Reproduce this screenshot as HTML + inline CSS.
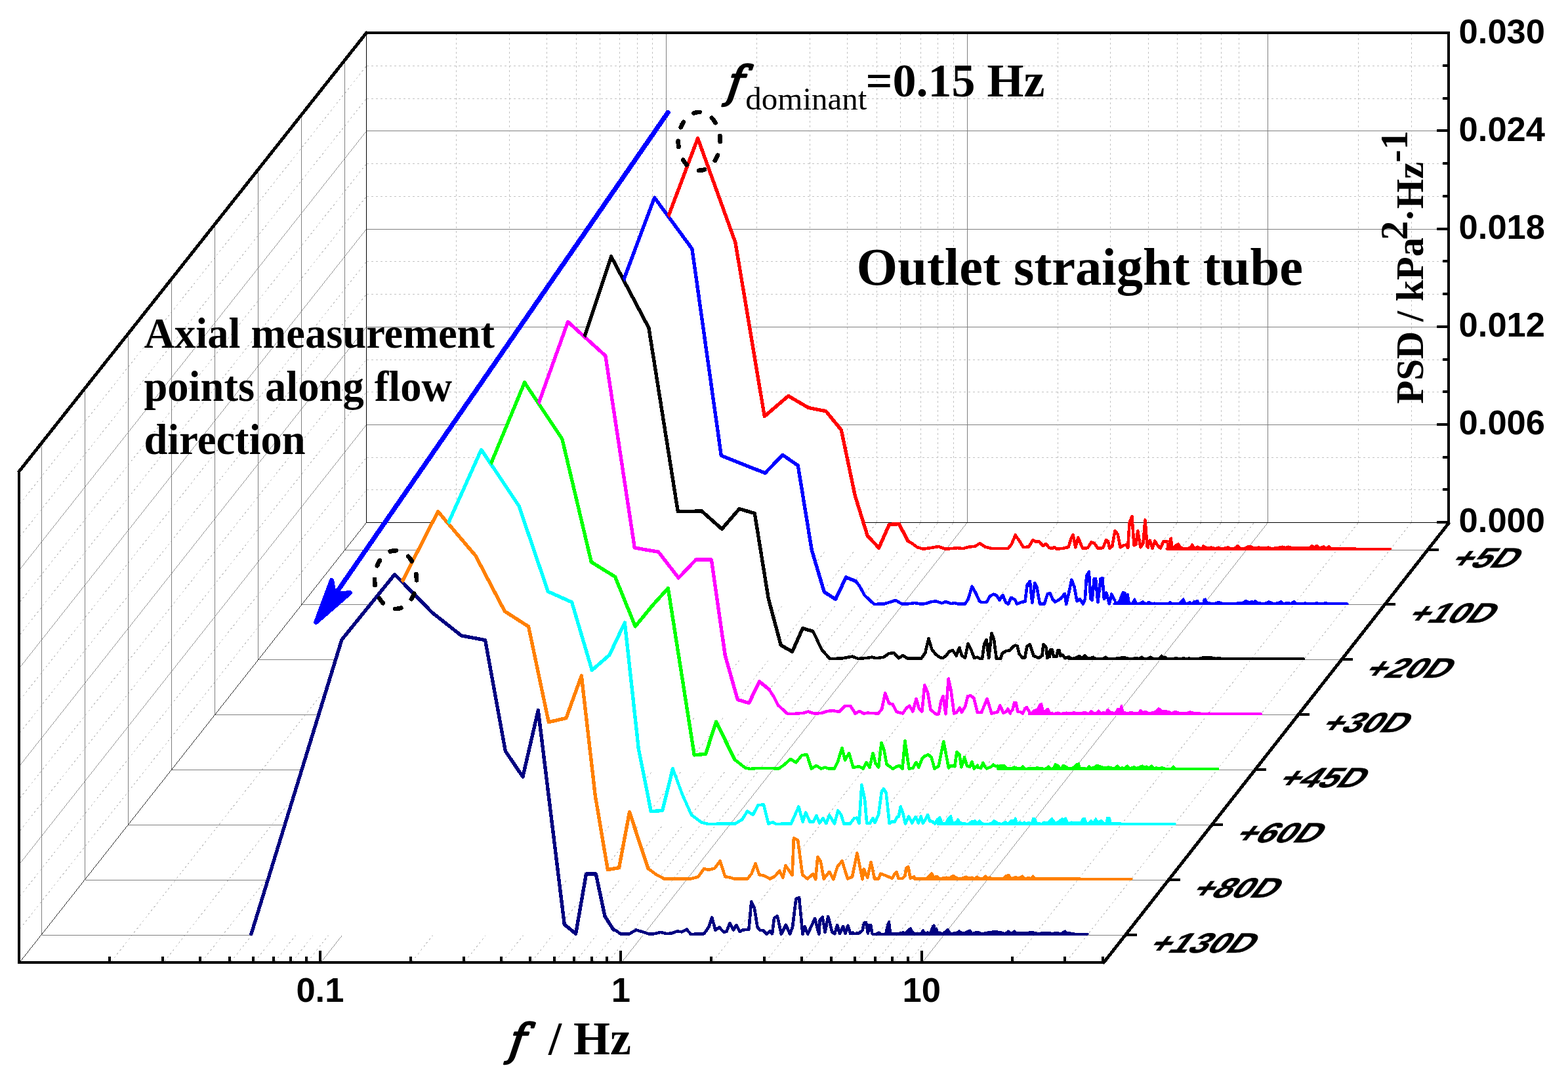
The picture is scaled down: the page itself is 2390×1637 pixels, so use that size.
<!DOCTYPE html>
<html><head><meta charset="utf-8"><title>PSD waterfall</title>
<style>html,body{margin:0;padding:0;background:#fff}svg{display:block}</style></head>
<body>
<svg width="2390" height="1637" viewBox="0 0 2390 1637">
<rect width="2390" height="1637" fill="#fff"/>
<g id="backwall" shape-rendering="crispEdges">
<line x1="558.50" y1="746.50" x2="2208.00" y2="746.50" stroke="#c2c2c2" stroke-width="1" stroke-dasharray="3.2 3.8"/>
<line x1="558.50" y1="697.50" x2="2208.00" y2="697.50" stroke="#c2c2c2" stroke-width="1" stroke-dasharray="3.2 3.8"/>
<line x1="558.50" y1="647.50" x2="2208.00" y2="647.50" stroke="#7f7f7f" stroke-width="1"/>
<line x1="558.50" y1="597.50" x2="2208.00" y2="597.50" stroke="#c2c2c2" stroke-width="1" stroke-dasharray="3.2 3.8"/>
<line x1="558.50" y1="548.50" x2="2208.00" y2="548.50" stroke="#c2c2c2" stroke-width="1" stroke-dasharray="3.2 3.8"/>
<line x1="558.50" y1="498.50" x2="2208.00" y2="498.50" stroke="#7f7f7f" stroke-width="1"/>
<line x1="558.50" y1="448.50" x2="2208.00" y2="448.50" stroke="#c2c2c2" stroke-width="1" stroke-dasharray="3.2 3.8"/>
<line x1="558.50" y1="398.50" x2="2208.00" y2="398.50" stroke="#c2c2c2" stroke-width="1" stroke-dasharray="3.2 3.8"/>
<line x1="558.50" y1="349.50" x2="2208.00" y2="349.50" stroke="#7f7f7f" stroke-width="1"/>
<line x1="558.50" y1="299.50" x2="2208.00" y2="299.50" stroke="#c2c2c2" stroke-width="1" stroke-dasharray="3.2 3.8"/>
<line x1="558.50" y1="249.50" x2="2208.00" y2="249.50" stroke="#c2c2c2" stroke-width="1" stroke-dasharray="3.2 3.8"/>
<line x1="558.50" y1="199.50" x2="2208.00" y2="199.50" stroke="#7f7f7f" stroke-width="1"/>
<line x1="558.50" y1="150.50" x2="2208.00" y2="150.50" stroke="#c2c2c2" stroke-width="1" stroke-dasharray="3.2 3.8"/>
<line x1="558.50" y1="100.50" x2="2208.00" y2="100.50" stroke="#c2c2c2" stroke-width="1" stroke-dasharray="3.2 3.8"/>
<line x1="695.50" y1="50.80" x2="695.50" y2="796.60" stroke="#c2c2c2" stroke-width="1" stroke-dasharray="3.2 3.8"/>
<line x1="776.50" y1="50.80" x2="776.50" y2="796.60" stroke="#c2c2c2" stroke-width="1" stroke-dasharray="3.2 3.8"/>
<line x1="833.50" y1="50.80" x2="833.50" y2="796.60" stroke="#c2c2c2" stroke-width="1" stroke-dasharray="3.2 3.8"/>
<line x1="878.50" y1="50.80" x2="878.50" y2="796.60" stroke="#c2c2c2" stroke-width="1" stroke-dasharray="3.2 3.8"/>
<line x1="914.50" y1="50.80" x2="914.50" y2="796.60" stroke="#c2c2c2" stroke-width="1" stroke-dasharray="3.2 3.8"/>
<line x1="944.50" y1="50.80" x2="944.50" y2="796.60" stroke="#c2c2c2" stroke-width="1" stroke-dasharray="3.2 3.8"/>
<line x1="971.50" y1="50.80" x2="971.50" y2="796.60" stroke="#c2c2c2" stroke-width="1" stroke-dasharray="3.2 3.8"/>
<line x1="994.50" y1="50.80" x2="994.50" y2="796.60" stroke="#c2c2c2" stroke-width="1" stroke-dasharray="3.2 3.8"/>
<line x1="1153.50" y1="50.80" x2="1153.50" y2="796.60" stroke="#c2c2c2" stroke-width="1" stroke-dasharray="3.2 3.8"/>
<line x1="1234.50" y1="50.80" x2="1234.50" y2="796.60" stroke="#c2c2c2" stroke-width="1" stroke-dasharray="3.2 3.8"/>
<line x1="1291.50" y1="50.80" x2="1291.50" y2="796.60" stroke="#c2c2c2" stroke-width="1" stroke-dasharray="3.2 3.8"/>
<line x1="1336.50" y1="50.80" x2="1336.50" y2="796.60" stroke="#c2c2c2" stroke-width="1" stroke-dasharray="3.2 3.8"/>
<line x1="1372.50" y1="50.80" x2="1372.50" y2="796.60" stroke="#c2c2c2" stroke-width="1" stroke-dasharray="3.2 3.8"/>
<line x1="1403.50" y1="50.80" x2="1403.50" y2="796.60" stroke="#c2c2c2" stroke-width="1" stroke-dasharray="3.2 3.8"/>
<line x1="1429.50" y1="50.80" x2="1429.50" y2="796.60" stroke="#c2c2c2" stroke-width="1" stroke-dasharray="3.2 3.8"/>
<line x1="1453.50" y1="50.80" x2="1453.50" y2="796.60" stroke="#c2c2c2" stroke-width="1" stroke-dasharray="3.2 3.8"/>
<line x1="1612.50" y1="50.80" x2="1612.50" y2="796.60" stroke="#c2c2c2" stroke-width="1" stroke-dasharray="3.2 3.8"/>
<line x1="1692.50" y1="50.80" x2="1692.50" y2="796.60" stroke="#c2c2c2" stroke-width="1" stroke-dasharray="3.2 3.8"/>
<line x1="1750.50" y1="50.80" x2="1750.50" y2="796.60" stroke="#c2c2c2" stroke-width="1" stroke-dasharray="3.2 3.8"/>
<line x1="1794.50" y1="50.80" x2="1794.50" y2="796.60" stroke="#c2c2c2" stroke-width="1" stroke-dasharray="3.2 3.8"/>
<line x1="1830.50" y1="50.80" x2="1830.50" y2="796.60" stroke="#c2c2c2" stroke-width="1" stroke-dasharray="3.2 3.8"/>
<line x1="1861.50" y1="50.80" x2="1861.50" y2="796.60" stroke="#c2c2c2" stroke-width="1" stroke-dasharray="3.2 3.8"/>
<line x1="1888.50" y1="50.80" x2="1888.50" y2="796.60" stroke="#c2c2c2" stroke-width="1" stroke-dasharray="3.2 3.8"/>
<line x1="2070.50" y1="50.80" x2="2070.50" y2="796.60" stroke="#c2c2c2" stroke-width="1" stroke-dasharray="3.2 3.8"/>
<line x1="2151.50" y1="50.80" x2="2151.50" y2="796.60" stroke="#c2c2c2" stroke-width="1" stroke-dasharray="3.2 3.8"/>
<line x1="1015.50" y1="50.80" x2="1015.50" y2="796.60" stroke="#7f7f7f" stroke-width="1"/>
<line x1="1474.50" y1="50.80" x2="1474.50" y2="796.60" stroke="#7f7f7f" stroke-width="1"/>
<line x1="1932.50" y1="50.80" x2="1932.50" y2="796.60" stroke="#7f7f7f" stroke-width="1"/>
</g>
<g id="leftwall" shape-rendering="crispEdges">
<line x1="30.50" y1="1415.67" x2="558.50" y2="746.88" stroke="#c2c2c2" stroke-width="1.1" stroke-dasharray="2.8 4.2"/>
<line x1="30.50" y1="1365.83" x2="558.50" y2="697.16" stroke="#c2c2c2" stroke-width="1.1" stroke-dasharray="2.8 4.2"/>
<line x1="30.50" y1="1316.00" x2="558.50" y2="647.44" stroke="#7f7f7f" stroke-width="0.8"/>
<line x1="30.50" y1="1266.17" x2="558.50" y2="597.72" stroke="#c2c2c2" stroke-width="1.1" stroke-dasharray="2.8 4.2"/>
<line x1="30.50" y1="1216.33" x2="558.50" y2="548.00" stroke="#c2c2c2" stroke-width="1.1" stroke-dasharray="2.8 4.2"/>
<line x1="30.50" y1="1166.50" x2="558.50" y2="498.28" stroke="#7f7f7f" stroke-width="0.8"/>
<line x1="30.50" y1="1116.67" x2="558.50" y2="448.56" stroke="#c2c2c2" stroke-width="1.1" stroke-dasharray="2.8 4.2"/>
<line x1="30.50" y1="1066.83" x2="558.50" y2="398.84" stroke="#c2c2c2" stroke-width="1.1" stroke-dasharray="2.8 4.2"/>
<line x1="30.50" y1="1017.00" x2="558.50" y2="349.12" stroke="#7f7f7f" stroke-width="0.8"/>
<line x1="30.50" y1="967.17" x2="558.50" y2="299.40" stroke="#c2c2c2" stroke-width="1.1" stroke-dasharray="2.8 4.2"/>
<line x1="30.50" y1="917.33" x2="558.50" y2="249.68" stroke="#c2c2c2" stroke-width="1.1" stroke-dasharray="2.8 4.2"/>
<line x1="30.50" y1="867.50" x2="558.50" y2="199.96" stroke="#7f7f7f" stroke-width="0.8"/>
<line x1="30.50" y1="817.67" x2="558.50" y2="150.24" stroke="#c2c2c2" stroke-width="1.1" stroke-dasharray="2.8 4.2"/>
<line x1="30.50" y1="767.83" x2="558.50" y2="100.52" stroke="#c2c2c2" stroke-width="1.1" stroke-dasharray="2.8 4.2"/>
<line x1="63.50" y1="677.60" x2="63.50" y2="1425.00" stroke="#7f7f7f" stroke-width="1"/>
<line x1="129.50" y1="593.96" x2="129.50" y2="1341.14" stroke="#7f7f7f" stroke-width="1"/>
<line x1="195.50" y1="510.32" x2="195.50" y2="1257.29" stroke="#7f7f7f" stroke-width="1"/>
<line x1="261.50" y1="426.67" x2="261.50" y2="1173.43" stroke="#7f7f7f" stroke-width="1"/>
<line x1="327.50" y1="343.03" x2="327.50" y2="1089.57" stroke="#7f7f7f" stroke-width="1"/>
<line x1="393.50" y1="259.38" x2="393.50" y2="1005.72" stroke="#7f7f7f" stroke-width="1"/>
<line x1="459.50" y1="175.74" x2="459.50" y2="921.86" stroke="#7f7f7f" stroke-width="1"/>
<line x1="525.50" y1="92.10" x2="525.50" y2="838.00" stroke="#7f7f7f" stroke-width="1"/>
</g>
<g id="floor" shape-rendering="crispEdges">
<line x1="169.79" y1="1465.50" x2="695.65" y2="796.60" stroke="#c2c2c2" stroke-width="1.1" stroke-dasharray="2.8 4.2"/>
<line x1="250.51" y1="1465.50" x2="776.34" y2="796.60" stroke="#c2c2c2" stroke-width="1.1" stroke-dasharray="2.8 4.2"/>
<line x1="307.78" y1="1465.50" x2="833.59" y2="796.60" stroke="#c2c2c2" stroke-width="1.1" stroke-dasharray="2.8 4.2"/>
<line x1="352.21" y1="1465.50" x2="878.00" y2="796.60" stroke="#c2c2c2" stroke-width="1.1" stroke-dasharray="2.8 4.2"/>
<line x1="388.50" y1="1465.50" x2="914.29" y2="796.60" stroke="#c2c2c2" stroke-width="1.1" stroke-dasharray="2.8 4.2"/>
<line x1="419.19" y1="1465.50" x2="944.97" y2="796.60" stroke="#c2c2c2" stroke-width="1.1" stroke-dasharray="2.8 4.2"/>
<line x1="445.78" y1="1465.50" x2="971.54" y2="796.60" stroke="#c2c2c2" stroke-width="1.1" stroke-dasharray="2.8 4.2"/>
<line x1="469.22" y1="1465.50" x2="994.98" y2="796.60" stroke="#c2c2c2" stroke-width="1.1" stroke-dasharray="2.8 4.2"/>
<line x1="628.19" y1="1465.50" x2="1153.90" y2="796.60" stroke="#c2c2c2" stroke-width="1.1" stroke-dasharray="2.8 4.2"/>
<line x1="708.91" y1="1465.50" x2="1234.59" y2="796.60" stroke="#c2c2c2" stroke-width="1.1" stroke-dasharray="2.8 4.2"/>
<line x1="766.18" y1="1465.50" x2="1291.84" y2="796.60" stroke="#c2c2c2" stroke-width="1.1" stroke-dasharray="2.8 4.2"/>
<line x1="810.61" y1="1465.50" x2="1336.25" y2="796.60" stroke="#c2c2c2" stroke-width="1.1" stroke-dasharray="2.8 4.2"/>
<line x1="846.90" y1="1465.50" x2="1372.54" y2="796.60" stroke="#c2c2c2" stroke-width="1.1" stroke-dasharray="2.8 4.2"/>
<line x1="877.59" y1="1465.50" x2="1403.22" y2="796.60" stroke="#c2c2c2" stroke-width="1.1" stroke-dasharray="2.8 4.2"/>
<line x1="904.18" y1="1465.50" x2="1429.79" y2="796.60" stroke="#c2c2c2" stroke-width="1.1" stroke-dasharray="2.8 4.2"/>
<line x1="927.62" y1="1465.50" x2="1453.23" y2="796.60" stroke="#c2c2c2" stroke-width="1.1" stroke-dasharray="2.8 4.2"/>
<line x1="1086.59" y1="1465.50" x2="1612.15" y2="796.60" stroke="#c2c2c2" stroke-width="1.1" stroke-dasharray="2.8 4.2"/>
<line x1="1167.31" y1="1465.50" x2="1692.84" y2="796.60" stroke="#c2c2c2" stroke-width="1.1" stroke-dasharray="2.8 4.2"/>
<line x1="1224.58" y1="1465.50" x2="1750.09" y2="796.60" stroke="#c2c2c2" stroke-width="1.1" stroke-dasharray="2.8 4.2"/>
<line x1="1269.01" y1="1465.50" x2="1794.50" y2="796.60" stroke="#c2c2c2" stroke-width="1.1" stroke-dasharray="2.8 4.2"/>
<line x1="1305.30" y1="1465.50" x2="1830.79" y2="796.60" stroke="#c2c2c2" stroke-width="1.1" stroke-dasharray="2.8 4.2"/>
<line x1="1335.99" y1="1465.50" x2="1861.47" y2="796.60" stroke="#c2c2c2" stroke-width="1.1" stroke-dasharray="2.8 4.2"/>
<line x1="1362.58" y1="1465.50" x2="1888.04" y2="796.60" stroke="#c2c2c2" stroke-width="1.1" stroke-dasharray="2.8 4.2"/>
<line x1="1386.02" y1="1465.50" x2="1911.48" y2="796.60" stroke="#c2c2c2" stroke-width="1.1" stroke-dasharray="2.8 4.2"/>
<line x1="1544.99" y1="1465.50" x2="2070.40" y2="796.60" stroke="#c2c2c2" stroke-width="1.1" stroke-dasharray="2.8 4.2"/>
<line x1="1625.71" y1="1465.50" x2="2151.09" y2="796.60" stroke="#c2c2c2" stroke-width="1.1" stroke-dasharray="2.8 4.2"/>
<line x1="490.20" y1="1465.50" x2="1015.95" y2="796.60" stroke="#7f7f7f" stroke-width="0.8"/>
<line x1="948.60" y1="1465.50" x2="1474.20" y2="796.60" stroke="#7f7f7f" stroke-width="0.8"/>
<line x1="1407.00" y1="1465.50" x2="1932.45" y2="796.60" stroke="#7f7f7f" stroke-width="0.8"/>
<line x1="63.50" y1="1425.50" x2="1715.44" y2="1425.50" stroke="#7f7f7f" stroke-width="1"/>
<line x1="129.53" y1="1341.50" x2="1781.21" y2="1341.50" stroke="#7f7f7f" stroke-width="1"/>
<line x1="195.56" y1="1257.50" x2="1846.98" y2="1257.50" stroke="#7f7f7f" stroke-width="1"/>
<line x1="261.59" y1="1173.50" x2="1912.76" y2="1173.50" stroke="#7f7f7f" stroke-width="1"/>
<line x1="327.62" y1="1089.50" x2="1978.53" y2="1089.50" stroke="#7f7f7f" stroke-width="1"/>
<line x1="393.65" y1="1005.50" x2="2044.30" y2="1005.50" stroke="#7f7f7f" stroke-width="1"/>
<line x1="459.68" y1="921.50" x2="2110.07" y2="921.50" stroke="#7f7f7f" stroke-width="1"/>
<line x1="525.71" y1="838.50" x2="2175.84" y2="838.50" stroke="#7f7f7f" stroke-width="1"/>
</g>
<g shape-rendering="crispEdges">
<line x1="558.50" y1="50.80" x2="558.50" y2="796.60" stroke="#000" stroke-width="1"/>
<line x1="558.50" y1="796.50" x2="2208.00" y2="796.50" stroke="#000" stroke-width="1"/>
<line x1="31.00" y1="1465.50" x2="558.50" y2="796.60" stroke="#000" stroke-width="0.8"/>
</g>
<g id="curves" stroke-linejoin="round" stroke-linecap="round" shape-rendering="crispEdges">
<path d="M844.9,836.7 L982.9,424.8 L1063.6,210.7 L1120.9,369.6 L1165.3,634.6 L1201.6,603.5 L1232.3,621.5 L1258.9,626.7 L1282.3,655.4 L1303.3,755.5 L1322.3,816.7 L1339.6,835.0 L1355.5,799.4 L1370.3,798.7 L1384.0,824.6 L1390.0,828.2 L1397.7,834.0 L1407.0,836.7 L1421.0,834.7 L1430.6,833.1 L1441.1,836.7 L1452.0,835.9 L1459.7,835.1 L1467.5,836.2 L1476.7,833.6 L1486.0,832.8 L1493.5,828.2 L1501.5,833.6 L1512.4,836.2 L1521.7,835.9 L1536.4,836.2 L1541.8,829.7 L1547.7,815.5 L1554.2,825.1 L1559.6,834.0 L1568.1,833.6 L1574.3,823.2 L1579.0,825.8 L1583.6,825.1 L1589.8,832.0 L1594.5,828.9 L1599.1,835.1 L1603.8,835.9 L1607.2,834.0 L1610.7,836.7 L1619.3,835.9 L1628.6,834.0 L1632.4,821.2 L1635.5,815.0 L1639.4,834.4 L1643.3,819.2 L1650.2,835.9 L1658.0,835.1 L1663.4,826.3 L1668.1,828.2 L1673.5,835.9 L1681.2,835.1 L1685.9,823.2 L1689.0,825.1 L1691.3,835.9 L1695.2,832.8 L1699.5,809.3 L1703.7,814.2 L1707.6,834.4 L1712.2,831.3 L1716.9,830.5 L1719.2,835.1 L1721.5,797.2 L1725.4,787.1 L1728.5,831.3 L1731.6,829.7 L1734.2,809.3 L1738.5,834.4 L1742.4,828.2 L1745.5,792.5 L1748.6,832.8 L1750.0,834.4 L1750.0,828.8 L1752.6,823.7 L1756.5,835.7 L1760.3,824.5 L1764.6,831.4 L1768.9,835.7 L1773.2,825.4 L1778.4,825.1 L1781.0,835.7 L1783.6,821.1 L1785.3,820.2 L1787.0,835.7 L1791.3,831.4 L1796.1,828.8 L1800.8,834.9 L1806.8,835.7 L1813.7,834.9 L1817.1,829.7 L1820.6,835.4 L1825.7,833.1 L1830.9,835.7 L1834.3,831.9 L1839.5,834.9 L1846.4,834.0 L1853.3,835.7 L1857.6,834.0 L1861.9,836.1 L1867.0,834.9 L1872.2,833.7 L1876.5,836.1 L1882.5,834.9 L1886.8,831.4 L1890.3,835.7 L1896.3,835.4 L1901.5,833.1 L1907.5,833.1 L1911.8,834.9 L1917.8,834.0 L1923.8,834.4 L1929.0,834.9 L1933.3,834.0 L1937.6,835.7 L1944.5,834.9 L1949.7,834.0 L1954.8,833.1 L1959.1,834.4 L1963.4,833.1 L1968.6,834.4 L1973.8,834.4 L1980.6,834.9 L1989.2,834.4 L1996.1,834.4 L1999.6,831.4 L2003.0,833.7 L2007.3,831.4 L2010.8,834.9 L2017.6,832.6 L2021.9,835.4 L2025.4,832.3 L2028.8,835.4 L2035.7,835.7 L2046.0,835.7 L2059.8,836.1 L2119.2,836.6 L2119.2,838.9 L844.9,838.9 Z" fill="#fff" stroke="none"/>
<path d="M1778.4,836.5 L1778.4,825.1 L1781.0,835.7 L1783.6,821.1 L1785.3,820.2 L1787.0,835.7 L1791.3,831.4 L1796.1,828.8 L1800.8,834.9 L1806.8,835.7 L1813.7,834.9 L1817.1,829.7 L1820.6,835.4 L1825.7,833.1 L1830.9,835.7 L1834.3,831.9 L1839.5,834.9 L1846.4,834.0 L1853.3,835.7 L1857.6,834.0 L1861.9,836.1 L1867.0,834.9 L1872.2,833.7 L1876.5,836.1 L1882.5,834.9 L1886.8,831.4 L1890.3,835.7 L1896.3,835.4 L1901.5,833.1 L1907.5,833.1 L1911.8,834.9 L1917.8,834.0 L1923.8,834.4 L1929.0,834.9 L1933.3,834.0 L1937.6,835.7 L1944.5,834.9 L1949.7,834.0 L1954.8,833.1 L1959.1,834.4 L1963.4,833.1 L1968.6,834.4 L1973.8,834.4 L1980.6,834.9 L1989.2,834.4 L1996.1,834.4 L1999.6,831.4 L2003.0,833.7 L2007.3,831.4 L2010.8,834.9 L2017.6,832.6 L2021.9,835.4 L2025.4,832.3 L2028.8,835.4 L2035.7,835.7 L2046.0,835.7 L2059.8,836.1 L2119.2,836.5 L2119.2,836.5 Z" fill="#FF0000" stroke="none"/>
<line x1="1778.4" y1="836.5" x2="2119.2" y2="836.5" stroke="#FF0000" stroke-width="4"/>
<path d="M1778.4,825.1 L1781.0,835.7 L1783.6,821.1 L1785.3,820.2 L1787.0,835.7 L1791.3,831.4 L1796.1,828.8 L1800.8,834.9 L1806.8,835.7 L1813.7,834.9 L1817.1,829.7 L1820.6,835.4 L1825.7,833.1 L1830.9,835.7 L1834.3,831.9 L1839.5,834.9 L1846.4,834.0 L1853.3,835.7 L1857.6,834.0 L1861.9,836.1 L1867.0,834.9 L1872.2,833.7 L1876.5,836.1 L1882.5,834.9 L1886.8,831.4 L1890.3,835.7 L1896.3,835.4 L1901.5,833.1 L1907.5,833.1 L1911.8,834.9 L1917.8,834.0 L1923.8,834.4 L1929.0,834.9 L1933.3,834.0 L1937.6,835.7 L1944.5,834.9 L1949.7,834.0 L1954.8,833.1 L1959.1,834.4 L1963.4,833.1 L1968.6,834.4 L1973.8,834.4 L1980.6,834.9 L1989.2,834.4 L1996.1,834.4 L1999.6,831.4 L2003.0,833.7 L2007.3,831.4 L2010.8,834.9 L2017.6,832.6 L2021.9,835.4 L2025.4,832.3 L2028.8,835.4 L2035.7,835.7 L2046.0,835.7 L2059.8,836.1 L2119.2,836.6" fill="none" stroke="#FF0000" stroke-width="3.3"/>
<path d="M1384.0,824.6 L1390.0,828.2 L1397.7,834.0 L1407.0,836.7 L1421.0,834.7 L1430.6,833.1 L1441.1,836.7 L1452.0,835.9 L1459.7,835.1 L1467.5,836.2 L1476.7,833.6 L1486.0,832.8 L1493.5,828.2 L1501.5,833.6 L1512.4,836.2 L1521.7,835.9 L1536.4,836.2 L1541.8,829.7 L1547.7,815.5 L1554.2,825.1 L1559.6,834.0 L1568.1,833.6 L1574.3,823.2 L1579.0,825.8 L1583.6,825.1 L1589.8,832.0 L1594.5,828.9 L1599.1,835.1 L1603.8,835.9 L1607.2,834.0 L1610.7,836.7 L1619.3,835.9 L1628.6,834.0 L1632.4,821.2 L1635.5,815.0 L1639.4,834.4 L1643.3,819.2 L1650.2,835.9 L1658.0,835.1 L1663.4,826.3 L1668.1,828.2 L1673.5,835.9 L1681.2,835.1 L1685.9,823.2 L1689.0,825.1 L1691.3,835.9 L1695.2,832.8 L1699.5,809.3 L1703.7,814.2 L1707.6,834.4 L1712.2,831.3 L1716.9,830.5 L1719.2,835.1 L1721.5,797.2 L1725.4,787.1 L1728.5,831.3 L1731.6,829.7 L1734.2,809.3 L1738.5,834.4 L1742.4,828.2 L1745.5,792.5 L1748.6,832.8 L1750.0,834.4 L1750.0,828.8 L1752.6,823.7 L1756.5,835.7 L1760.3,824.5 L1764.6,831.4 L1768.9,835.7 L1773.2,825.4 L1778.4,825.1" fill="none" stroke="#FF0000" stroke-width="4.6"/>
<path d="M844.9,836.7 L982.9,424.8 L1063.6,210.7 L1120.9,369.6 L1165.3,634.6 L1201.6,603.5 L1232.3,621.5 L1258.9,626.7 L1282.3,655.4 L1303.3,755.5 L1322.3,816.7 L1339.6,835.0 L1355.5,799.4 L1370.3,798.7 L1384.0,824.6" fill="none" stroke="#FF0000" stroke-width="5.4"/>
<path d="M778.9,920.8 L916.9,516.5 L997.6,301.2 L1054.9,379.3 L1099.3,694.4 L1135.6,709.0 L1166.3,721.0 L1192.9,693.4 L1216.3,709.6 L1237.3,838.4 L1256.3,902.3 L1273.6,913.4 L1289.5,879.9 L1304.3,885.8 L1310.0,893.0 L1317.7,907.0 L1325.5,914.7 L1332.5,920.9 L1347.2,920.6 L1356.5,917.8 L1365.0,915.0 L1375.1,920.6 L1387.5,920.1 L1394.4,919.0 L1402.9,920.6 L1410.7,920.1 L1418.4,917.5 L1426.2,916.3 L1435.5,919.4 L1441.7,917.0 L1449.4,920.1 L1454.8,919.0 L1461.0,920.6 L1471.1,920.6 L1475.7,913.2 L1481.6,893.8 L1488.1,905.4 L1492.8,916.3 L1495.9,918.1 L1503.6,918.1 L1509.1,908.5 L1514.5,905.7 L1519.1,907.7 L1523.5,914.7 L1528.4,907.0 L1533.1,918.1 L1536.9,920.9 L1541.1,910.8 L1547.0,913.9 L1550.1,920.6 L1557.8,917.5 L1562.5,917.0 L1565.6,891.5 L1569.9,886.0 L1573.3,919.0 L1577.2,888.7 L1580.3,894.6 L1585.0,920.6 L1591.9,920.6 L1596.6,905.4 L1600.4,903.9 L1604.3,913.2 L1608.2,917.5 L1615.9,913.2 L1622.9,905.1 L1625.2,920.9 L1629.1,903.9 L1633.4,883.7 L1637.6,894.6 L1641.5,916.3 L1646.1,913.2 L1650.8,920.6 L1653.9,913.2 L1656.2,877.5 L1659.8,871.6 L1662.4,913.2 L1664.7,914.7 L1667.8,882.2 L1670.0,882.2 L1670.0,882.0 L1673.4,918.1 L1677.7,882.0 L1680.3,881.1 L1682.9,913.0 L1686.4,903.5 L1690.7,920.4 L1694.4,905.6 L1698.4,913.8 L1702.7,920.4 L1707.0,913.8 L1711.3,902.7 L1715.1,903.5 L1716.1,919.9 L1719.1,905.6 L1721.6,919.9 L1725.9,919.0 L1729.4,913.0 L1732.8,919.9 L1738.0,919.0 L1742.3,916.9 L1746.6,920.4 L1751.2,917.3 L1755.2,919.9 L1759.5,919.0 L1766.4,920.4 L1773.3,919.9 L1780.2,920.4 L1783.6,917.6 L1787.9,920.4 L1797.4,919.9 L1801.2,915.6 L1803.9,913.0 L1806.8,919.9 L1811.1,919.0 L1813.7,917.3 L1816.3,919.9 L1820.6,916.4 L1825.8,915.9 L1828.3,920.7 L1833.5,920.4 L1835.2,913.8 L1837.3,913.0 L1839.5,918.1 L1849.0,919.9 L1857.6,917.6 L1866.2,920.4 L1880.0,919.4 L1893.8,918.7 L1898.9,915.2 L1904.1,918.1 L1908.4,916.4 L1911.0,918.1 L1913.0,915.6 L1917.8,919.0 L1928.2,919.4 L1934.2,916.9 L1940.2,919.4 L1948.8,919.0 L1952.3,916.4 L1955.7,919.9 L1960.9,918.7 L1967.8,919.4 L1972.6,916.4 L1976.4,919.9 L1990.1,919.0 L1997.0,919.9 L2007.3,919.0 L2014.2,919.9 L2020.3,918.7 L2028.0,919.9 L2053.8,920.7 L2053.8,922.8 L778.9,922.8 Z" fill="#fff" stroke="none"/>
<path d="M1698.4,920.4 L1698.4,913.8 L1702.7,920.4 L1707.0,913.8 L1711.3,902.7 L1715.1,903.5 L1716.1,919.9 L1719.1,905.6 L1721.6,919.9 L1725.9,919.0 L1729.4,913.0 L1732.8,919.9 L1738.0,919.0 L1742.3,916.9 L1746.6,920.4 L1751.2,917.3 L1755.2,919.9 L1759.5,919.0 L1766.4,920.4 L1773.3,919.9 L1780.2,920.4 L1783.6,917.6 L1787.9,920.4 L1797.4,919.9 L1801.2,915.6 L1803.9,913.0 L1806.8,919.9 L1811.1,919.0 L1813.7,917.3 L1816.3,919.9 L1820.6,916.4 L1825.8,915.9 L1828.3,920.4 L1833.5,920.4 L1835.2,913.8 L1837.3,913.0 L1839.5,918.1 L1849.0,919.9 L1857.6,917.6 L1866.2,920.4 L1880.0,919.4 L1893.8,918.7 L1898.9,915.2 L1904.1,918.1 L1908.4,916.4 L1911.0,918.1 L1913.0,915.6 L1917.8,919.0 L1928.2,919.4 L1934.2,916.9 L1940.2,919.4 L1948.8,919.0 L1952.3,916.4 L1955.7,919.9 L1960.9,918.7 L1967.8,919.4 L1972.6,916.4 L1976.4,919.9 L1990.1,919.0 L1997.0,919.9 L2007.3,919.0 L2014.2,919.9 L2020.3,918.7 L2028.0,919.9 L2053.8,920.4 L2053.8,920.4 Z" fill="#0000FF" stroke="none"/>
<line x1="1698.4" y1="920.4" x2="2053.8" y2="920.4" stroke="#0000FF" stroke-width="4"/>
<path d="M1698.4,913.8 L1702.7,920.4 L1707.0,913.8 L1711.3,902.7 L1715.1,903.5 L1716.1,919.9 L1719.1,905.6 L1721.6,919.9 L1725.9,919.0 L1729.4,913.0 L1732.8,919.9 L1738.0,919.0 L1742.3,916.9 L1746.6,920.4 L1751.2,917.3 L1755.2,919.9 L1759.5,919.0 L1766.4,920.4 L1773.3,919.9 L1780.2,920.4 L1783.6,917.6 L1787.9,920.4 L1797.4,919.9 L1801.2,915.6 L1803.9,913.0 L1806.8,919.9 L1811.1,919.0 L1813.7,917.3 L1816.3,919.9 L1820.6,916.4 L1825.8,915.9 L1828.3,920.7 L1833.5,920.4 L1835.2,913.8 L1837.3,913.0 L1839.5,918.1 L1849.0,919.9 L1857.6,917.6 L1866.2,920.4 L1880.0,919.4 L1893.8,918.7 L1898.9,915.2 L1904.1,918.1 L1908.4,916.4 L1911.0,918.1 L1913.0,915.6 L1917.8,919.0 L1928.2,919.4 L1934.2,916.9 L1940.2,919.4 L1948.8,919.0 L1952.3,916.4 L1955.7,919.9 L1960.9,918.7 L1967.8,919.4 L1972.6,916.4 L1976.4,919.9 L1990.1,919.0 L1997.0,919.9 L2007.3,919.0 L2014.2,919.9 L2020.3,918.7 L2028.0,919.9 L2053.8,920.7" fill="none" stroke="#0000FF" stroke-width="3.3"/>
<path d="M1304.3,885.8 L1310.0,893.0 L1317.7,907.0 L1325.5,914.7 L1332.5,920.9 L1347.2,920.6 L1356.5,917.8 L1365.0,915.0 L1375.1,920.6 L1387.5,920.1 L1394.4,919.0 L1402.9,920.6 L1410.7,920.1 L1418.4,917.5 L1426.2,916.3 L1435.5,919.4 L1441.7,917.0 L1449.4,920.1 L1454.8,919.0 L1461.0,920.6 L1471.1,920.6 L1475.7,913.2 L1481.6,893.8 L1488.1,905.4 L1492.8,916.3 L1495.9,918.1 L1503.6,918.1 L1509.1,908.5 L1514.5,905.7 L1519.1,907.7 L1523.5,914.7 L1528.4,907.0 L1533.1,918.1 L1536.9,920.9 L1541.1,910.8 L1547.0,913.9 L1550.1,920.6 L1557.8,917.5 L1562.5,917.0 L1565.6,891.5 L1569.9,886.0 L1573.3,919.0 L1577.2,888.7 L1580.3,894.6 L1585.0,920.6 L1591.9,920.6 L1596.6,905.4 L1600.4,903.9 L1604.3,913.2 L1608.2,917.5 L1615.9,913.2 L1622.9,905.1 L1625.2,920.9 L1629.1,903.9 L1633.4,883.7 L1637.6,894.6 L1641.5,916.3 L1646.1,913.2 L1650.8,920.6 L1653.9,913.2 L1656.2,877.5 L1659.8,871.6 L1662.4,913.2 L1664.7,914.7 L1667.8,882.2 L1670.0,882.2 L1670.0,882.0 L1673.4,918.1 L1677.7,882.0 L1680.3,881.1 L1682.9,913.0 L1686.4,903.5 L1690.7,920.4 L1694.4,905.6 L1698.4,913.8" fill="none" stroke="#0000FF" stroke-width="4.6"/>
<path d="M778.9,920.8 L916.9,516.5 L997.6,301.2 L1054.9,379.3 L1099.3,694.4 L1135.6,709.0 L1166.3,721.0 L1192.9,693.4 L1216.3,709.6 L1237.3,838.4 L1256.3,902.3 L1273.6,913.4 L1289.5,879.9 L1304.3,885.8" fill="none" stroke="#0000FF" stroke-width="5.4"/>
<path d="M712.9,1004.0 L850.9,633.4 L931.6,391.0 L988.9,499.8 L1033.3,779.7 L1069.6,779.0 L1100.3,806.3 L1126.9,775.6 L1150.3,782.5 L1171.3,912.7 L1190.3,983.5 L1207.6,993.2 L1223.5,957.6 L1238.3,962.1 L1240.0,963.7 L1252.4,990.1 L1264.8,1004.0 L1281.8,1003.7 L1291.1,1002.1 L1298.9,1000.6 L1308.2,1004.0 L1322.1,1002.8 L1329.1,1001.7 L1336.0,1003.2 L1346.9,1001.7 L1354.6,996.3 L1362.4,995.0 L1369.8,1003.2 L1376.3,999.0 L1383.3,1003.7 L1404.2,1003.7 L1410.4,994.7 L1415.4,973.3 L1420.5,990.1 L1425.9,997.0 L1432.1,1001.7 L1436.7,1003.2 L1442.2,999.4 L1446.8,993.2 L1452.2,991.3 L1457.6,999.4 L1462.3,987.0 L1466.2,999.4 L1471.1,1002.5 L1475.5,981.1 L1480.1,990.1 L1485.1,1003.2 L1489.4,1001.7 L1494.0,1004.0 L1497.1,1004.0 L1500.2,981.5 L1503.6,975.3 L1507.2,1003.2 L1511.4,965.0 L1515.0,974.6 L1518.8,1004.0 L1525.0,1004.0 L1527.8,995.5 L1534.3,991.9 L1539.0,991.6 L1543.6,986.2 L1547.5,983.6 L1550.6,984.6 L1553.7,997.0 L1559.1,1003.2 L1562.2,1002.5 L1565.3,985.4 L1569.9,982.3 L1575.4,999.4 L1583.1,1003.2 L1588.5,999.4 L1590.4,982.0 L1594.7,987.0 L1596.3,1003.2 L1600.0,993.2 L1600.0,1000.7 L1600.9,990.4 L1603.8,990.1 L1606.0,1000.7 L1610.7,1000.7 L1612.4,991.3 L1614.6,991.3 L1616.4,999.9 L1619.8,998.1 L1623.2,1003.3 L1629.3,1001.1 L1634.4,1003.3 L1639.6,1002.1 L1645.1,999.4 L1649.1,1002.1 L1653.4,998.7 L1656.8,1002.1 L1662.0,1002.5 L1666.3,1001.1 L1670.6,1003.8 L1680.9,1003.3 L1685.2,1001.1 L1689.5,1003.8 L1699.8,1003.3 L1708.4,1002.1 L1715.3,1002.1 L1722.2,1003.8 L1730.8,1002.8 L1736.0,1003.3 L1740.3,1001.1 L1744.6,1003.8 L1749.7,1003.3 L1753.5,1001.1 L1758.3,1003.3 L1765.2,1003.8 L1768.7,1001.6 L1770.4,999.0 L1773.0,1002.1 L1775.6,1001.1 L1779.0,1003.8 L1789.3,1003.3 L1792.8,1002.5 L1797.9,1004.2 L1804.0,1002.8 L1808.3,1003.8 L1812.6,1002.8 L1816.9,1004.2 L1827.2,1003.3 L1832.4,1002.1 L1841.0,1002.1 L1847.8,1002.1 L1853.0,1003.3 L1858.2,1002.5 L1863.3,1003.8 L1875.4,1003.3 L1892.6,1003.3 L1909.8,1003.8 L1918.4,1003.3 L1927.0,1004.2 L1987.3,1004.5 L1987.3,1006.6 L712.9,1006.6 Z" fill="#fff" stroke="none"/>
<path d="M1629.3,1004.2 L1629.3,1001.1 L1634.4,1003.3 L1639.6,1002.1 L1645.1,999.4 L1649.1,1002.1 L1653.4,998.7 L1656.8,1002.1 L1662.0,1002.5 L1666.3,1001.1 L1670.6,1003.8 L1680.9,1003.3 L1685.2,1001.1 L1689.5,1003.8 L1699.8,1003.3 L1708.4,1002.1 L1715.3,1002.1 L1722.2,1003.8 L1730.8,1002.8 L1736.0,1003.3 L1740.3,1001.1 L1744.6,1003.8 L1749.7,1003.3 L1753.5,1001.1 L1758.3,1003.3 L1765.2,1003.8 L1768.7,1001.6 L1770.4,999.0 L1773.0,1002.1 L1775.6,1001.1 L1779.0,1003.8 L1789.3,1003.3 L1792.8,1002.5 L1797.9,1004.2 L1804.0,1002.8 L1808.3,1003.8 L1812.6,1002.8 L1816.9,1004.2 L1827.2,1003.3 L1832.4,1002.1 L1841.0,1002.1 L1847.8,1002.1 L1853.0,1003.3 L1858.2,1002.5 L1863.3,1003.8 L1875.4,1003.3 L1892.6,1003.3 L1909.8,1003.8 L1918.4,1003.3 L1927.0,1004.2 L1987.3,1004.2 L1987.3,1004.2 Z" fill="#000000" stroke="none"/>
<line x1="1629.3" y1="1004.2" x2="1987.3" y2="1004.2" stroke="#000000" stroke-width="4"/>
<path d="M1629.3,1001.1 L1634.4,1003.3 L1639.6,1002.1 L1645.1,999.4 L1649.1,1002.1 L1653.4,998.7 L1656.8,1002.1 L1662.0,1002.5 L1666.3,1001.1 L1670.6,1003.8 L1680.9,1003.3 L1685.2,1001.1 L1689.5,1003.8 L1699.8,1003.3 L1708.4,1002.1 L1715.3,1002.1 L1722.2,1003.8 L1730.8,1002.8 L1736.0,1003.3 L1740.3,1001.1 L1744.6,1003.8 L1749.7,1003.3 L1753.5,1001.1 L1758.3,1003.3 L1765.2,1003.8 L1768.7,1001.6 L1770.4,999.0 L1773.0,1002.1 L1775.6,1001.1 L1779.0,1003.8 L1789.3,1003.3 L1792.8,1002.5 L1797.9,1004.2 L1804.0,1002.8 L1808.3,1003.8 L1812.6,1002.8 L1816.9,1004.2 L1827.2,1003.3 L1832.4,1002.1 L1841.0,1002.1 L1847.8,1002.1 L1853.0,1003.3 L1858.2,1002.5 L1863.3,1003.8 L1875.4,1003.3 L1892.6,1003.3 L1909.8,1003.8 L1918.4,1003.3 L1927.0,1004.2 L1987.3,1004.5" fill="none" stroke="#000000" stroke-width="3.3"/>
<path d="M1238.3,962.1 L1240.0,963.7 L1252.4,990.1 L1264.8,1004.0 L1281.8,1003.7 L1291.1,1002.1 L1298.9,1000.6 L1308.2,1004.0 L1322.1,1002.8 L1329.1,1001.7 L1336.0,1003.2 L1346.9,1001.7 L1354.6,996.3 L1362.4,995.0 L1369.8,1003.2 L1376.3,999.0 L1383.3,1003.7 L1404.2,1003.7 L1410.4,994.7 L1415.4,973.3 L1420.5,990.1 L1425.9,997.0 L1432.1,1001.7 L1436.7,1003.2 L1442.2,999.4 L1446.8,993.2 L1452.2,991.3 L1457.6,999.4 L1462.3,987.0 L1466.2,999.4 L1471.1,1002.5 L1475.5,981.1 L1480.1,990.1 L1485.1,1003.2 L1489.4,1001.7 L1494.0,1004.0 L1497.1,1004.0 L1500.2,981.5 L1503.6,975.3 L1507.2,1003.2 L1511.4,965.0 L1515.0,974.6 L1518.8,1004.0 L1525.0,1004.0 L1527.8,995.5 L1534.3,991.9 L1539.0,991.6 L1543.6,986.2 L1547.5,983.6 L1550.6,984.6 L1553.7,997.0 L1559.1,1003.2 L1562.2,1002.5 L1565.3,985.4 L1569.9,982.3 L1575.4,999.4 L1583.1,1003.2 L1588.5,999.4 L1590.4,982.0 L1594.7,987.0 L1596.3,1003.2 L1600.0,993.2 L1600.0,1000.7 L1600.9,990.4 L1603.8,990.1 L1606.0,1000.7 L1610.7,1000.7 L1612.4,991.3 L1614.6,991.3 L1616.4,999.9 L1619.8,998.1 L1623.2,1003.3 L1629.3,1001.1" fill="none" stroke="#000000" stroke-width="4.6"/>
<path d="M712.9,1004.0 L850.9,633.4 L931.6,391.0 L988.9,499.8 L1033.3,779.7 L1069.6,779.0 L1100.3,806.3 L1126.9,775.6 L1150.3,782.5 L1171.3,912.7 L1190.3,983.5 L1207.6,993.2 L1223.5,957.6 L1238.3,962.1" fill="none" stroke="#000000" stroke-width="5.4"/>
<path d="M646.9,1087.8 L784.9,715.3 L865.6,490.5 L922.9,542.3 L967.3,835.0 L1003.6,841.2 L1034.3,880.9 L1060.9,852.9 L1084.3,852.9 L1105.3,999.0 L1124.3,1066.4 L1141.6,1071.6 L1157.5,1038.8 L1172.3,1050.9 L1180.0,1062.7 L1186.2,1075.1 L1193.9,1082.0 L1200.1,1087.8 L1212.5,1087.8 L1224.9,1086.7 L1231.9,1084.7 L1242.0,1087.8 L1252.8,1086.7 L1261.3,1084.0 L1269.8,1083.1 L1279.1,1085.1 L1288.4,1075.8 L1296.2,1075.8 L1303.6,1087.5 L1310.1,1084.0 L1316.3,1087.5 L1322.5,1086.7 L1338.8,1087.5 L1344.2,1080.5 L1349.2,1056.5 L1355.0,1072.0 L1360.5,1073.5 L1366.7,1085.1 L1376.0,1087.5 L1381.4,1079.4 L1386.3,1075.8 L1391.4,1084.4 L1396.6,1065.0 L1400.7,1079.7 L1405.4,1084.4 L1409.3,1044.4 L1413.9,1054.9 L1418.6,1082.0 L1426.3,1088.2 L1430.9,1088.2 L1434.0,1069.6 L1437.5,1061.1 L1441.5,1088.2 L1445.7,1034.5 L1449.5,1051.8 L1454.2,1087.5 L1458.1,1085.9 L1462.7,1078.9 L1465.8,1085.6 L1471.2,1076.6 L1475.1,1061.1 L1479.7,1060.3 L1484.4,1064.2 L1489.8,1085.9 L1496.0,1085.9 L1504.5,1065.0 L1511.5,1087.5 L1520.8,1085.1 L1524.2,1075.1 L1529.3,1086.7 L1534.0,1084.4 L1536.3,1080.5 L1540.0,1087.5 L1540.0,1085.7 L1543.4,1082.3 L1546.0,1071.1 L1548.6,1071.1 L1551.2,1084.9 L1555.5,1084.9 L1558.9,1087.5 L1562.4,1079.7 L1565.0,1078.0 L1568.4,1084.0 L1571.0,1087.5 L1575.3,1083.1 L1581.3,1081.4 L1584.4,1074.5 L1587.3,1072.3 L1590.3,1084.0 L1594.2,1083.1 L1597.1,1080.2 L1600.2,1086.6 L1607.1,1087.5 L1612.3,1086.1 L1617.5,1087.5 L1625.2,1086.1 L1632.9,1087.1 L1637.2,1085.4 L1641.5,1087.1 L1648.4,1086.6 L1653.6,1085.4 L1658.8,1087.5 L1663.1,1083.7 L1667.4,1086.6 L1670.8,1086.6 L1674.3,1083.1 L1677.7,1086.6 L1682.0,1085.7 L1685.4,1086.6 L1688.4,1081.4 L1692.3,1085.4 L1700.1,1086.6 L1703.5,1080.6 L1707.8,1080.6 L1709.5,1075.4 L1712.1,1085.7 L1719.0,1086.6 L1725.0,1085.4 L1729.3,1087.1 L1735.4,1086.6 L1738.3,1082.6 L1741.4,1085.7 L1746.5,1084.4 L1750.8,1086.6 L1755.1,1086.1 L1760.3,1084.9 L1766.3,1079.7 L1771.5,1084.0 L1775.8,1083.7 L1781.0,1084.4 L1786.1,1086.6 L1791.3,1084.4 L1798.2,1086.6 L1808.5,1086.6 L1813.7,1084.9 L1820.6,1086.6 L1836.0,1087.5 L1842.9,1087.1 L1851.5,1087.5 L1922.1,1088.3 L1922.1,1090.5 L646.9,1090.5 Z" fill="#fff" stroke="none"/>
<path d="M1568.4,1088.1 L1568.4,1084.0 L1571.0,1087.5 L1575.3,1083.1 L1581.3,1081.4 L1584.4,1074.5 L1587.3,1072.3 L1590.3,1084.0 L1594.2,1083.1 L1597.1,1080.2 L1600.2,1086.6 L1607.1,1087.5 L1612.3,1086.1 L1617.5,1087.5 L1625.2,1086.1 L1632.9,1087.1 L1637.2,1085.4 L1641.5,1087.1 L1648.4,1086.6 L1653.6,1085.4 L1658.8,1087.5 L1663.1,1083.7 L1667.4,1086.6 L1670.8,1086.6 L1674.3,1083.1 L1677.7,1086.6 L1682.0,1085.7 L1685.4,1086.6 L1688.4,1081.4 L1692.3,1085.4 L1700.1,1086.6 L1703.5,1080.6 L1707.8,1080.6 L1709.5,1075.4 L1712.1,1085.7 L1719.0,1086.6 L1725.0,1085.4 L1729.3,1087.1 L1735.4,1086.6 L1738.3,1082.6 L1741.4,1085.7 L1746.5,1084.4 L1750.8,1086.6 L1755.1,1086.1 L1760.3,1084.9 L1766.3,1079.7 L1771.5,1084.0 L1775.8,1083.7 L1781.0,1084.4 L1786.1,1086.6 L1791.3,1084.4 L1798.2,1086.6 L1808.5,1086.6 L1813.7,1084.9 L1820.6,1086.6 L1836.0,1087.5 L1842.9,1087.1 L1851.5,1087.5 L1922.1,1088.1 L1922.1,1088.1 Z" fill="#FF00FF" stroke="none"/>
<line x1="1568.4" y1="1088.1" x2="1922.1" y2="1088.1" stroke="#FF00FF" stroke-width="4"/>
<path d="M1568.4,1084.0 L1571.0,1087.5 L1575.3,1083.1 L1581.3,1081.4 L1584.4,1074.5 L1587.3,1072.3 L1590.3,1084.0 L1594.2,1083.1 L1597.1,1080.2 L1600.2,1086.6 L1607.1,1087.5 L1612.3,1086.1 L1617.5,1087.5 L1625.2,1086.1 L1632.9,1087.1 L1637.2,1085.4 L1641.5,1087.1 L1648.4,1086.6 L1653.6,1085.4 L1658.8,1087.5 L1663.1,1083.7 L1667.4,1086.6 L1670.8,1086.6 L1674.3,1083.1 L1677.7,1086.6 L1682.0,1085.7 L1685.4,1086.6 L1688.4,1081.4 L1692.3,1085.4 L1700.1,1086.6 L1703.5,1080.6 L1707.8,1080.6 L1709.5,1075.4 L1712.1,1085.7 L1719.0,1086.6 L1725.0,1085.4 L1729.3,1087.1 L1735.4,1086.6 L1738.3,1082.6 L1741.4,1085.7 L1746.5,1084.4 L1750.8,1086.6 L1755.1,1086.1 L1760.3,1084.9 L1766.3,1079.7 L1771.5,1084.0 L1775.8,1083.7 L1781.0,1084.4 L1786.1,1086.6 L1791.3,1084.4 L1798.2,1086.6 L1808.5,1086.6 L1813.7,1084.9 L1820.6,1086.6 L1836.0,1087.5 L1842.9,1087.1 L1851.5,1087.5 L1922.1,1088.3" fill="none" stroke="#FF00FF" stroke-width="3.3"/>
<path d="M1172.3,1050.9 L1180.0,1062.7 L1186.2,1075.1 L1193.9,1082.0 L1200.1,1087.8 L1212.5,1087.8 L1224.9,1086.7 L1231.9,1084.7 L1242.0,1087.8 L1252.8,1086.7 L1261.3,1084.0 L1269.8,1083.1 L1279.1,1085.1 L1288.4,1075.8 L1296.2,1075.8 L1303.6,1087.5 L1310.1,1084.0 L1316.3,1087.5 L1322.5,1086.7 L1338.8,1087.5 L1344.2,1080.5 L1349.2,1056.5 L1355.0,1072.0 L1360.5,1073.5 L1366.7,1085.1 L1376.0,1087.5 L1381.4,1079.4 L1386.3,1075.8 L1391.4,1084.4 L1396.6,1065.0 L1400.7,1079.7 L1405.4,1084.4 L1409.3,1044.4 L1413.9,1054.9 L1418.6,1082.0 L1426.3,1088.2 L1430.9,1088.2 L1434.0,1069.6 L1437.5,1061.1 L1441.5,1088.2 L1445.7,1034.5 L1449.5,1051.8 L1454.2,1087.5 L1458.1,1085.9 L1462.7,1078.9 L1465.8,1085.6 L1471.2,1076.6 L1475.1,1061.1 L1479.7,1060.3 L1484.4,1064.2 L1489.8,1085.9 L1496.0,1085.9 L1504.5,1065.0 L1511.5,1087.5 L1520.8,1085.1 L1524.2,1075.1 L1529.3,1086.7 L1534.0,1084.4 L1536.3,1080.5 L1540.0,1087.5 L1540.0,1085.7 L1543.4,1082.3 L1546.0,1071.1 L1548.6,1071.1 L1551.2,1084.9 L1555.5,1084.9 L1558.9,1087.5 L1562.4,1079.7 L1565.0,1078.0 L1568.4,1084.0" fill="none" stroke="#FF00FF" stroke-width="4.6"/>
<path d="M646.9,1087.8 L784.9,715.3 L865.6,490.5 L922.9,542.3 L967.3,835.0 L1003.6,841.2 L1034.3,880.9 L1060.9,852.9 L1084.3,852.9 L1105.3,999.0 L1124.3,1066.4 L1141.6,1071.6 L1157.5,1038.8 L1172.3,1050.9" fill="none" stroke="#FF00FF" stroke-width="5.4"/>
<path d="M580.9,1172.0 L718.9,777.6 L799.6,583.0 L856.9,669.2 L901.3,856.7 L937.6,879.2 L968.3,954.8 L994.9,922.4 L1018.3,896.5 L1058.3,1150.9 L1075.6,1149.2 L1091.5,1100.1 L1120.0,1157.8 L1130.0,1165.8 L1136.2,1170.5 L1143.9,1172.0 L1153.2,1170.9 L1187.3,1171.3 L1195.1,1165.8 L1205.1,1157.0 L1213.3,1162.3 L1222.2,1151.1 L1229.9,1150.3 L1236.9,1171.6 L1244.3,1166.9 L1251.6,1171.6 L1257.8,1169.7 L1263.2,1171.6 L1271.7,1171.6 L1277.2,1160.4 L1283.4,1140.0 L1288.0,1158.6 L1294.2,1148.0 L1300.4,1169.7 L1309.7,1168.2 L1315.6,1171.6 L1320.5,1162.0 L1325.5,1169.7 L1330.6,1148.0 L1334.5,1163.5 L1339.1,1169.4 L1343.5,1132.2 L1347.6,1143.4 L1351.5,1165.1 L1356.2,1168.2 L1360.8,1172.0 L1367.0,1168.2 L1371.3,1166.9 L1375.5,1171.6 L1379.4,1129.1 L1385.6,1171.6 L1391.8,1170.5 L1396.4,1162.0 L1400.3,1169.7 L1405.7,1155.8 L1409.6,1152.4 L1415.0,1150.3 L1419.7,1154.2 L1424.3,1171.6 L1430.5,1168.2 L1438.3,1130.2 L1446.0,1170.5 L1448.8,1166.9 L1455.3,1168.2 L1458.4,1146.2 L1462.3,1149.6 L1465.4,1169.4 L1470.0,1154.2 L1473.9,1167.4 L1478.2,1168.9 L1481.6,1161.2 L1484.7,1171.6 L1490.0,1166.6 L1490.0,1169.7 L1495.2,1170.6 L1498.3,1162.8 L1501.2,1168.8 L1503.8,1171.4 L1510.7,1168.8 L1514.1,1165.7 L1517.5,1168.0 L1521.0,1167.5 L1526.1,1166.8 L1531.3,1166.8 L1535.1,1170.9 L1541.6,1170.9 L1545.9,1168.8 L1550.2,1170.2 L1555.4,1171.4 L1558.8,1168.0 L1562.3,1171.4 L1569.2,1170.9 L1576.1,1170.9 L1581.2,1169.7 L1586.4,1170.9 L1593.3,1171.4 L1598.4,1168.0 L1601.9,1171.4 L1605.3,1170.6 L1608.4,1164.5 L1613.1,1167.1 L1616.5,1171.4 L1620.8,1166.3 L1626.0,1168.8 L1629.4,1171.4 L1636.3,1169.7 L1641.5,1164.5 L1644.0,1164.0 L1646.6,1170.9 L1651.8,1170.6 L1656.1,1171.4 L1660.1,1168.0 L1663.0,1170.9 L1668.1,1168.8 L1672.4,1166.3 L1677.6,1168.0 L1682.8,1170.2 L1689.7,1168.8 L1694.8,1170.2 L1699.1,1170.6 L1703.4,1167.1 L1706.5,1170.9 L1710.3,1169.7 L1713.8,1170.9 L1718.1,1167.1 L1722.4,1170.9 L1728.4,1168.8 L1732.7,1170.6 L1737.0,1168.8 L1741.3,1167.1 L1744.7,1169.7 L1747.8,1168.0 L1750.8,1170.6 L1755.1,1167.1 L1758.5,1170.9 L1762.8,1169.7 L1766.2,1170.9 L1771.4,1169.7 L1776.6,1171.4 L1786.0,1171.4 L1788.6,1168.0 L1791.2,1171.4 L1796.4,1171.4 L1805.0,1171.4 L1810.1,1172.3 L1856.6,1172.3 L1856.6,1174.3 L580.9,1174.3 Z" fill="#fff" stroke="none"/>
<path d="M1521.0,1171.9 L1521.0,1167.5 L1526.1,1166.8 L1531.3,1166.8 L1535.1,1170.9 L1541.6,1170.9 L1545.9,1168.8 L1550.2,1170.2 L1555.4,1171.4 L1558.8,1168.0 L1562.3,1171.4 L1569.2,1170.9 L1576.1,1170.9 L1581.2,1169.7 L1586.4,1170.9 L1593.3,1171.4 L1598.4,1168.0 L1601.9,1171.4 L1605.3,1170.6 L1608.4,1164.5 L1613.1,1167.1 L1616.5,1171.4 L1620.8,1166.3 L1626.0,1168.8 L1629.4,1171.4 L1636.3,1169.7 L1641.5,1164.5 L1644.0,1164.0 L1646.6,1170.9 L1651.8,1170.6 L1656.1,1171.4 L1660.1,1168.0 L1663.0,1170.9 L1668.1,1168.8 L1672.4,1166.3 L1677.6,1168.0 L1682.8,1170.2 L1689.7,1168.8 L1694.8,1170.2 L1699.1,1170.6 L1703.4,1167.1 L1706.5,1170.9 L1710.3,1169.7 L1713.8,1170.9 L1718.1,1167.1 L1722.4,1170.9 L1728.4,1168.8 L1732.7,1170.6 L1737.0,1168.8 L1741.3,1167.1 L1744.7,1169.7 L1747.8,1168.0 L1750.8,1170.6 L1755.1,1167.1 L1758.5,1170.9 L1762.8,1169.7 L1766.2,1170.9 L1771.4,1169.7 L1776.6,1171.4 L1786.0,1171.4 L1788.6,1168.0 L1791.2,1171.4 L1796.4,1171.4 L1805.0,1171.4 L1810.1,1171.9 L1856.6,1171.9 L1856.6,1171.9 Z" fill="#00FF00" stroke="none"/>
<line x1="1521.0" y1="1171.9" x2="1856.6" y2="1171.9" stroke="#00FF00" stroke-width="4"/>
<path d="M1521.0,1167.5 L1526.1,1166.8 L1531.3,1166.8 L1535.1,1170.9 L1541.6,1170.9 L1545.9,1168.8 L1550.2,1170.2 L1555.4,1171.4 L1558.8,1168.0 L1562.3,1171.4 L1569.2,1170.9 L1576.1,1170.9 L1581.2,1169.7 L1586.4,1170.9 L1593.3,1171.4 L1598.4,1168.0 L1601.9,1171.4 L1605.3,1170.6 L1608.4,1164.5 L1613.1,1167.1 L1616.5,1171.4 L1620.8,1166.3 L1626.0,1168.8 L1629.4,1171.4 L1636.3,1169.7 L1641.5,1164.5 L1644.0,1164.0 L1646.6,1170.9 L1651.8,1170.6 L1656.1,1171.4 L1660.1,1168.0 L1663.0,1170.9 L1668.1,1168.8 L1672.4,1166.3 L1677.6,1168.0 L1682.8,1170.2 L1689.7,1168.8 L1694.8,1170.2 L1699.1,1170.6 L1703.4,1167.1 L1706.5,1170.9 L1710.3,1169.7 L1713.8,1170.9 L1718.1,1167.1 L1722.4,1170.9 L1728.4,1168.8 L1732.7,1170.6 L1737.0,1168.8 L1741.3,1167.1 L1744.7,1169.7 L1747.8,1168.0 L1750.8,1170.6 L1755.1,1167.1 L1758.5,1170.9 L1762.8,1169.7 L1766.2,1170.9 L1771.4,1169.7 L1776.6,1171.4 L1786.0,1171.4 L1788.6,1168.0 L1791.2,1171.4 L1796.4,1171.4 L1805.0,1171.4 L1810.1,1172.3 L1856.6,1172.3" fill="none" stroke="#00FF00" stroke-width="3.3"/>
<path d="M1120.0,1157.8 L1130.0,1165.8 L1136.2,1170.5 L1143.9,1172.0 L1153.2,1170.9 L1187.3,1171.3 L1195.1,1165.8 L1205.1,1157.0 L1213.3,1162.3 L1222.2,1151.1 L1229.9,1150.3 L1236.9,1171.6 L1244.3,1166.9 L1251.6,1171.6 L1257.8,1169.7 L1263.2,1171.6 L1271.7,1171.6 L1277.2,1160.4 L1283.4,1140.0 L1288.0,1158.6 L1294.2,1148.0 L1300.4,1169.7 L1309.7,1168.2 L1315.6,1171.6 L1320.5,1162.0 L1325.5,1169.7 L1330.6,1148.0 L1334.5,1163.5 L1339.1,1169.4 L1343.5,1132.2 L1347.6,1143.4 L1351.5,1165.1 L1356.2,1168.2 L1360.8,1172.0 L1367.0,1168.2 L1371.3,1166.9 L1375.5,1171.6 L1379.4,1129.1 L1385.6,1171.6 L1391.8,1170.5 L1396.4,1162.0 L1400.3,1169.7 L1405.7,1155.8 L1409.6,1152.4 L1415.0,1150.3 L1419.7,1154.2 L1424.3,1171.6 L1430.5,1168.2 L1438.3,1130.2 L1446.0,1170.5 L1448.8,1166.9 L1455.3,1168.2 L1458.4,1146.2 L1462.3,1149.6 L1465.4,1169.4 L1470.0,1154.2 L1473.9,1167.4 L1478.2,1168.9 L1481.6,1161.2 L1484.7,1171.6 L1490.0,1166.6 L1490.0,1169.7 L1495.2,1170.6 L1498.3,1162.8 L1501.2,1168.8 L1503.8,1171.4 L1510.7,1168.8 L1514.1,1165.7 L1517.5,1168.0 L1521.0,1167.5" fill="none" stroke="#00FF00" stroke-width="4.6"/>
<path d="M580.9,1172.0 L718.9,777.6 L799.6,583.0 L856.9,669.2 L901.3,856.7 L937.6,879.2 L968.3,954.8 L994.9,922.4 L1018.3,896.5 L1058.3,1150.9 L1075.6,1149.2 L1091.5,1100.1 L1120.0,1157.8" fill="none" stroke="#00FF00" stroke-width="5.4"/>
<path d="M514.9,1255.8 L652.9,865.0 L733.6,685.4 L790.9,771.0 L835.3,901.6 L871.6,917.9 L902.3,1021.5 L928.9,998.4 L952.3,949.0 L973.3,1141.2 L992.3,1236.7 L1009.6,1235.5 L1025.5,1171.6 L1040.0,1211.0 L1053.9,1242.0 L1069.4,1253.6 L1078.7,1255.9 L1120.6,1255.6 L1131.4,1248.9 L1139.1,1236.5 L1147.7,1242.0 L1155.4,1227.2 L1163.9,1226.5 L1171.4,1255.6 L1177.9,1253.1 L1182.5,1255.9 L1205.7,1255.6 L1217.4,1229.6 L1223.6,1252.5 L1228.2,1238.6 L1234.4,1252.5 L1239.8,1252.5 L1244.5,1243.5 L1249.1,1254.4 L1254.5,1247.4 L1259.2,1255.1 L1264.3,1242.7 L1272.0,1255.6 L1277.3,1235.5 L1282.0,1242.0 L1286.3,1255.6 L1295.6,1255.6 L1301.8,1247.4 L1306.1,1246.6 L1309.5,1255.1 L1313.4,1196.3 L1318.1,1218.7 L1321.2,1254.4 L1325.8,1255.1 L1330.4,1247.4 L1333.5,1253.6 L1339.0,1242.0 L1343.9,1206.3 L1346.7,1202.5 L1350.6,1207.9 L1355.7,1255.1 L1359.1,1252.5 L1363.8,1252.8 L1366.9,1245.8 L1369.9,1244.3 L1372.7,1229.6 L1376.1,1238.9 L1380.0,1255.6 L1385.1,1244.3 L1390.1,1254.4 L1395.5,1245.1 L1400.0,1254.4 L1400.0,1254.0 L1403.8,1244.5 L1406.9,1254.9 L1410.7,1248.8 L1414.1,1242.0 L1417.2,1251.4 L1420.7,1251.9 L1425.0,1255.4 L1429.3,1248.8 L1432.4,1245.4 L1436.1,1254.0 L1441.3,1255.4 L1445.1,1248.0 L1449.1,1243.3 L1452.5,1254.0 L1456.8,1254.0 L1459.9,1248.8 L1463.7,1253.7 L1468.8,1254.9 L1475.7,1255.4 L1480.9,1251.9 L1486.1,1250.9 L1489.5,1254.9 L1493.3,1250.9 L1497.2,1254.9 L1503.3,1255.7 L1510.2,1254.9 L1515.3,1250.9 L1520.5,1254.0 L1526.5,1255.7 L1532.5,1252.6 L1536.8,1255.4 L1542.0,1250.2 L1545.4,1251.4 L1547.7,1247.1 L1550.6,1254.9 L1554.9,1253.1 L1558.3,1255.4 L1561.4,1253.1 L1564.4,1255.4 L1567.8,1253.7 L1572.1,1254.9 L1574.7,1247.5 L1577.6,1248.0 L1580.4,1254.9 L1585.0,1254.9 L1587.6,1255.7 L1591.4,1253.1 L1596.2,1254.4 L1600.5,1250.6 L1603.4,1247.5 L1607.4,1253.1 L1610.8,1254.0 L1615.1,1250.6 L1618.9,1248.0 L1621.2,1249.7 L1624.1,1247.1 L1628.1,1254.9 L1633.2,1253.1 L1641.0,1253.7 L1647.8,1253.1 L1650.4,1248.0 L1653.0,1247.1 L1656.1,1254.9 L1659.9,1254.0 L1663.3,1250.9 L1666.4,1253.7 L1670.2,1248.0 L1673.7,1253.7 L1678.8,1250.2 L1682.3,1254.9 L1685.7,1254.9 L1687.8,1246.3 L1690.9,1246.3 L1693.5,1254.9 L1704.6,1254.9 L1718.4,1255.7 L1790.7,1256.1 L1790.7,1258.2 L514.9,1258.2 Z" fill="#fff" stroke="none"/>
<path d="M1429.3,1255.8 L1429.3,1248.8 L1432.4,1245.4 L1436.1,1254.0 L1441.3,1255.4 L1445.1,1248.0 L1449.1,1243.3 L1452.5,1254.0 L1456.8,1254.0 L1459.9,1248.8 L1463.7,1253.7 L1468.8,1254.9 L1475.7,1255.4 L1480.9,1251.9 L1486.1,1250.9 L1489.5,1254.9 L1493.3,1250.9 L1497.2,1254.9 L1503.3,1255.7 L1510.2,1254.9 L1515.3,1250.9 L1520.5,1254.0 L1526.5,1255.7 L1532.5,1252.6 L1536.8,1255.4 L1542.0,1250.2 L1545.4,1251.4 L1547.7,1247.1 L1550.6,1254.9 L1554.9,1253.1 L1558.3,1255.4 L1561.4,1253.1 L1564.4,1255.4 L1567.8,1253.7 L1572.1,1254.9 L1574.7,1247.5 L1577.6,1248.0 L1580.4,1254.9 L1585.0,1254.9 L1587.6,1255.7 L1591.4,1253.1 L1596.2,1254.4 L1600.5,1250.6 L1603.4,1247.5 L1607.4,1253.1 L1610.8,1254.0 L1615.1,1250.6 L1618.9,1248.0 L1621.2,1249.7 L1624.1,1247.1 L1628.1,1254.9 L1633.2,1253.1 L1641.0,1253.7 L1647.8,1253.1 L1650.4,1248.0 L1653.0,1247.1 L1656.1,1254.9 L1659.9,1254.0 L1663.3,1250.9 L1666.4,1253.7 L1670.2,1248.0 L1673.7,1253.7 L1678.8,1250.2 L1682.3,1254.9 L1685.7,1254.9 L1687.8,1246.3 L1690.9,1246.3 L1693.5,1254.9 L1704.6,1254.9 L1718.4,1255.7 L1790.7,1255.8 L1790.7,1255.8 Z" fill="#00FFFF" stroke="none"/>
<line x1="1429.3" y1="1255.8" x2="1790.7" y2="1255.8" stroke="#00FFFF" stroke-width="4"/>
<path d="M1429.3,1248.8 L1432.4,1245.4 L1436.1,1254.0 L1441.3,1255.4 L1445.1,1248.0 L1449.1,1243.3 L1452.5,1254.0 L1456.8,1254.0 L1459.9,1248.8 L1463.7,1253.7 L1468.8,1254.9 L1475.7,1255.4 L1480.9,1251.9 L1486.1,1250.9 L1489.5,1254.9 L1493.3,1250.9 L1497.2,1254.9 L1503.3,1255.7 L1510.2,1254.9 L1515.3,1250.9 L1520.5,1254.0 L1526.5,1255.7 L1532.5,1252.6 L1536.8,1255.4 L1542.0,1250.2 L1545.4,1251.4 L1547.7,1247.1 L1550.6,1254.9 L1554.9,1253.1 L1558.3,1255.4 L1561.4,1253.1 L1564.4,1255.4 L1567.8,1253.7 L1572.1,1254.9 L1574.7,1247.5 L1577.6,1248.0 L1580.4,1254.9 L1585.0,1254.9 L1587.6,1255.7 L1591.4,1253.1 L1596.2,1254.4 L1600.5,1250.6 L1603.4,1247.5 L1607.4,1253.1 L1610.8,1254.0 L1615.1,1250.6 L1618.9,1248.0 L1621.2,1249.7 L1624.1,1247.1 L1628.1,1254.9 L1633.2,1253.1 L1641.0,1253.7 L1647.8,1253.1 L1650.4,1248.0 L1653.0,1247.1 L1656.1,1254.9 L1659.9,1254.0 L1663.3,1250.9 L1666.4,1253.7 L1670.2,1248.0 L1673.7,1253.7 L1678.8,1250.2 L1682.3,1254.9 L1685.7,1254.9 L1687.8,1246.3 L1690.9,1246.3 L1693.5,1254.9 L1704.6,1254.9 L1718.4,1255.7 L1790.7,1256.1" fill="none" stroke="#00FFFF" stroke-width="3.3"/>
<path d="M1025.5,1171.6 L1040.0,1211.0 L1053.9,1242.0 L1069.4,1253.6 L1078.7,1255.9 L1120.6,1255.6 L1131.4,1248.9 L1139.1,1236.5 L1147.7,1242.0 L1155.4,1227.2 L1163.9,1226.5 L1171.4,1255.6 L1177.9,1253.1 L1182.5,1255.9 L1205.7,1255.6 L1217.4,1229.6 L1223.6,1252.5 L1228.2,1238.6 L1234.4,1252.5 L1239.8,1252.5 L1244.5,1243.5 L1249.1,1254.4 L1254.5,1247.4 L1259.2,1255.1 L1264.3,1242.7 L1272.0,1255.6 L1277.3,1235.5 L1282.0,1242.0 L1286.3,1255.6 L1295.6,1255.6 L1301.8,1247.4 L1306.1,1246.6 L1309.5,1255.1 L1313.4,1196.3 L1318.1,1218.7 L1321.2,1254.4 L1325.8,1255.1 L1330.4,1247.4 L1333.5,1253.6 L1339.0,1242.0 L1343.9,1206.3 L1346.7,1202.5 L1350.6,1207.9 L1355.7,1255.1 L1359.1,1252.5 L1363.8,1252.8 L1366.9,1245.8 L1369.9,1244.3 L1372.7,1229.6 L1376.1,1238.9 L1380.0,1255.6 L1385.1,1244.3 L1390.1,1254.4 L1395.5,1245.1 L1400.0,1254.4 L1400.0,1254.0 L1403.8,1244.5 L1406.9,1254.9 L1410.7,1248.8 L1414.1,1242.0 L1417.2,1251.4 L1420.7,1251.9 L1425.0,1255.4 L1429.3,1248.8" fill="none" stroke="#00FFFF" stroke-width="4.6"/>
<path d="M514.9,1255.8 L652.9,865.0 L733.6,685.4 L790.9,771.0 L835.3,901.6 L871.6,917.9 L902.3,1021.5 L928.9,998.4 L952.3,949.0 L973.3,1141.2 L992.3,1236.7 L1009.6,1235.5 L1025.5,1171.6" fill="none" stroke="#00FFFF" stroke-width="5.4"/>
<path d="M448.9,1339.6 L586.9,937.5 L667.6,779.7 L724.9,847.1 L769.3,931.7 L805.6,955.0 L836.3,1100.6 L862.9,1094.6 L886.3,1030.0 L907.3,1212.8 L926.3,1325.5 L943.6,1322.6 L959.5,1237.8 L988.0,1323.8 L1000.0,1332.9 L1012.4,1339.5 L1052.7,1339.5 L1064.3,1336.4 L1072.8,1324.3 L1080.6,1325.8 L1089.1,1323.7 L1097.6,1312.3 L1105.3,1336.4 L1111.5,1337.1 L1119.3,1339.5 L1139.4,1339.5 L1145.6,1331.7 L1151.5,1316.2 L1157.2,1333.3 L1164.2,1334.5 L1173.5,1339.5 L1181.2,1335.6 L1188.2,1327.1 L1193.3,1337.9 L1197.5,1319.3 L1207.6,1334.0 L1209.9,1277.5 L1216.1,1280.6 L1223.1,1333.3 L1230.8,1339.5 L1239.3,1332.0 L1243.2,1340.2 L1246.3,1306.1 L1250.9,1313.1 L1255.6,1339.5 L1264.1,1328.9 L1270.3,1340.2 L1276.5,1320.9 L1283.5,1312.3 L1292.0,1339.5 L1299.0,1336.4 L1306.4,1300.4 L1314.5,1340.2 L1316.8,1324.7 L1322.2,1337.9 L1327.6,1313.9 L1333.0,1339.5 L1339.2,1339.5 L1342.3,1331.7 L1348.5,1334.0 L1360.0,1338.7 L1360.0,1338.7 L1363.9,1331.7 L1366.5,1329.4 L1369.6,1338.7 L1375.5,1339.1 L1379.4,1334.8 L1381.7,1322.4 L1384.5,1321.6 L1387.6,1338.7 L1393.3,1336.4 L1397.2,1339.1 L1411.1,1339.1 L1415.8,1335.6 L1420.1,1330.5 L1423.5,1336.4 L1428.2,1335.6 L1432.8,1338.7 L1442.1,1337.1 L1446.7,1337.9 L1452.9,1334.5 L1459.1,1337.9 L1463.8,1339.1 L1472.3,1336.0 L1476.2,1338.2 L1481.6,1337.1 L1485.5,1339.1 L1489.3,1336.0 L1493.2,1338.7 L1497.9,1338.7 L1502.2,1335.1 L1505.6,1338.7 L1508.7,1337.1 L1512.6,1339.1 L1528.8,1338.7 L1533.5,1334.8 L1537.8,1333.3 L1541.2,1338.7 L1548.2,1336.7 L1553.6,1337.9 L1558.3,1335.1 L1562.2,1338.8 L1567.6,1337.6 L1571.4,1338.7 L1574.5,1335.1 L1577.6,1339.1 L1586.2,1338.7 L1595.5,1338.7 L1720.0,1339.8 L1724.8,1339.9 L1724.8,1342.0 L448.9,1342.0 Z" fill="#fff" stroke="none"/>
<path d="M1393.3,1339.6 L1393.3,1336.4 L1397.2,1339.1 L1411.1,1339.1 L1415.8,1335.6 L1420.1,1330.5 L1423.5,1336.4 L1428.2,1335.6 L1432.8,1338.7 L1442.1,1337.1 L1446.7,1337.9 L1452.9,1334.5 L1459.1,1337.9 L1463.8,1339.1 L1472.3,1336.0 L1476.2,1338.2 L1481.6,1337.1 L1485.5,1339.1 L1489.3,1336.0 L1493.2,1338.7 L1497.9,1338.7 L1502.2,1335.1 L1505.6,1338.7 L1508.7,1337.1 L1512.6,1339.1 L1528.8,1338.7 L1533.5,1334.8 L1537.8,1333.3 L1541.2,1338.7 L1548.2,1336.7 L1553.6,1337.9 L1558.3,1335.1 L1562.2,1338.8 L1567.6,1337.6 L1571.4,1338.7 L1574.5,1335.1 L1577.6,1339.1 L1586.2,1338.7 L1595.5,1338.7 L1720.0,1339.6 L1724.8,1339.6 L1724.8,1339.6 Z" fill="#FF8000" stroke="none"/>
<line x1="1393.3" y1="1339.6" x2="1724.8" y2="1339.6" stroke="#FF8000" stroke-width="4"/>
<path d="M1393.3,1336.4 L1397.2,1339.1 L1411.1,1339.1 L1415.8,1335.6 L1420.1,1330.5 L1423.5,1336.4 L1428.2,1335.6 L1432.8,1338.7 L1442.1,1337.1 L1446.7,1337.9 L1452.9,1334.5 L1459.1,1337.9 L1463.8,1339.1 L1472.3,1336.0 L1476.2,1338.2 L1481.6,1337.1 L1485.5,1339.1 L1489.3,1336.0 L1493.2,1338.7 L1497.9,1338.7 L1502.2,1335.1 L1505.6,1338.7 L1508.7,1337.1 L1512.6,1339.1 L1528.8,1338.7 L1533.5,1334.8 L1537.8,1333.3 L1541.2,1338.7 L1548.2,1336.7 L1553.6,1337.9 L1558.3,1335.1 L1562.2,1338.8 L1567.6,1337.6 L1571.4,1338.7 L1574.5,1335.1 L1577.6,1339.1 L1586.2,1338.7 L1595.5,1338.7 L1720.0,1339.8 L1724.8,1339.9" fill="none" stroke="#FF8000" stroke-width="3.3"/>
<path d="M988.0,1323.8 L1000.0,1332.9 L1012.4,1339.5 L1052.7,1339.5 L1064.3,1336.4 L1072.8,1324.3 L1080.6,1325.8 L1089.1,1323.7 L1097.6,1312.3 L1105.3,1336.4 L1111.5,1337.1 L1119.3,1339.5 L1139.4,1339.5 L1145.6,1331.7 L1151.5,1316.2 L1157.2,1333.3 L1164.2,1334.5 L1173.5,1339.5 L1181.2,1335.6 L1188.2,1327.1 L1193.3,1337.9 L1197.5,1319.3 L1207.6,1334.0 L1209.9,1277.5 L1216.1,1280.6 L1223.1,1333.3 L1230.8,1339.5 L1239.3,1332.0 L1243.2,1340.2 L1246.3,1306.1 L1250.9,1313.1 L1255.6,1339.5 L1264.1,1328.9 L1270.3,1340.2 L1276.5,1320.9 L1283.5,1312.3 L1292.0,1339.5 L1299.0,1336.4 L1306.4,1300.4 L1314.5,1340.2 L1316.8,1324.7 L1322.2,1337.9 L1327.6,1313.9 L1333.0,1339.5 L1339.2,1339.5 L1342.3,1331.7 L1348.5,1334.0 L1360.0,1338.7 L1360.0,1338.7 L1363.9,1331.7 L1366.5,1329.4 L1369.6,1338.7 L1375.5,1339.1 L1379.4,1334.8 L1381.7,1322.4 L1384.5,1321.6 L1387.6,1338.7 L1393.3,1336.4" fill="none" stroke="#FF8000" stroke-width="4.6"/>
<path d="M448.9,1339.6 L586.9,937.5 L667.6,779.7 L724.9,847.1 L769.3,931.7 L805.6,955.0 L836.3,1100.6 L862.9,1094.6 L886.3,1030.0 L907.3,1212.8 L926.3,1325.5 L943.6,1322.6 L959.5,1237.8 L988.0,1323.8" fill="none" stroke="#FF8000" stroke-width="5.4"/>
<path d="M382.9,1423.8 L520.9,975.1 L601.6,875.5 L658.9,933.8 L703.3,968.9 L739.6,975.7 L770.3,1144.7 L796.9,1184.1 L820.3,1082.7 L860.3,1409.0 L877.6,1423.3 L893.5,1332.1 L908.3,1332.1 L922.0,1396.6 L934.9,1416.9 L940.0,1419.0 L946.2,1423.7 L958.6,1423.7 L969.4,1417.5 L978.7,1420.1 L988.0,1423.2 L997.3,1423.2 L1007.4,1420.9 L1015.9,1423.2 L1023.6,1422.5 L1032.2,1419.4 L1039.1,1420.4 L1046.6,1416.6 L1053.1,1424.0 L1073.2,1423.2 L1080.2,1413.2 L1085.3,1398.4 L1090.3,1417.8 L1096.5,1413.5 L1102.7,1420.4 L1107.3,1420.1 L1112.4,1407.0 L1117.8,1417.5 L1122.5,1410.1 L1127.4,1420.1 L1132.1,1417.5 L1141.4,1416.6 L1145.2,1374.4 L1149.9,1383.7 L1154.5,1413.2 L1158.4,1417.8 L1163.1,1418.1 L1168.5,1423.7 L1173.6,1419.0 L1177.0,1423.2 L1180.1,1399.2 L1184.8,1396.1 L1190.9,1423.7 L1197.9,1409.8 L1204.1,1423.7 L1208.0,1413.2 L1213.4,1369.8 L1218.1,1368.2 L1223.5,1424.0 L1226.6,1411.9 L1231.2,1423.7 L1242.1,1400.0 L1248.3,1424.0 L1249.8,1402.3 L1253.7,1397.7 L1257.6,1420.9 L1262.2,1396.9 L1268.4,1420.9 L1272.3,1423.2 L1276.1,1410.1 L1280.0,1423.2 L1285.1,1411.9 L1288.5,1422.5 L1292.4,1410.8 L1296.3,1423.2 L1300.0,1421.7 L1300.0,1423.2 L1309.3,1422.5 L1314.7,1417.8 L1317.0,1407.0 L1320.1,1406.2 L1322.9,1422.5 L1324.8,1410.1 L1327.1,1409.8 L1329.4,1423.2 L1335.6,1423.2 L1339.5,1420.9 L1342.6,1423.2 L1349.6,1423.2 L1353.4,1407.0 L1355.5,1404.6 L1357.6,1422.5 L1368.2,1423.2 L1375.9,1420.9 L1380.6,1421.7 L1386.0,1415.5 L1388.0,1414.7 L1391.4,1420.9 L1396.0,1423.2 L1403.8,1422.5 L1406.9,1417.5 L1409.2,1422.5 L1413.9,1420.9 L1417.7,1422.5 L1421.6,1411.6 L1423.9,1410.1 L1425.5,1423.2 L1427.3,1415.0 L1429.8,1422.5 L1432.4,1420.9 L1435.5,1423.2 L1439.4,1420.9 L1444.8,1416.3 L1448.7,1422.5 L1458.0,1421.7 L1461.9,1419.0 L1466.5,1421.7 L1470.4,1421.7 L1478.1,1418.1 L1482.0,1422.5 L1487.4,1420.9 L1492.1,1420.9 L1496.7,1422.8 L1504.5,1421.2 L1512.2,1420.1 L1520.0,1420.1 L1526.2,1420.9 L1530.8,1422.5 L1533.9,1421.7 L1536.7,1419.0 L1539.8,1421.7 L1543.2,1421.7 L1546.3,1419.0 L1549.4,1422.1 L1557.1,1421.7 L1563.3,1421.7 L1571.1,1420.9 L1577.3,1421.2 L1581.9,1422.8 L1589.7,1421.7 L1599.0,1421.7 L1603.6,1422.5 L1609.8,1421.7 L1617.6,1422.5 L1623.4,1419.0 L1626.9,1422.1 L1631.5,1422.1 L1637.7,1423.2 L1657.8,1423.7 L1657.8,1425.9 L382.9,1425.9 Z" fill="#fff" stroke="none"/>
<path d="M1329.4,1423.5 L1329.4,1423.2 L1335.6,1423.2 L1339.5,1420.9 L1342.6,1423.2 L1349.6,1423.2 L1353.4,1407.0 L1355.5,1404.6 L1357.6,1422.5 L1368.2,1423.2 L1375.9,1420.9 L1380.6,1421.7 L1386.0,1415.5 L1388.0,1414.7 L1391.4,1420.9 L1396.0,1423.2 L1403.8,1422.5 L1406.9,1417.5 L1409.2,1422.5 L1413.9,1420.9 L1417.7,1422.5 L1421.6,1411.6 L1423.9,1410.1 L1425.5,1423.2 L1427.3,1415.0 L1429.8,1422.5 L1432.4,1420.9 L1435.5,1423.2 L1439.4,1420.9 L1444.8,1416.3 L1448.7,1422.5 L1458.0,1421.7 L1461.9,1419.0 L1466.5,1421.7 L1470.4,1421.7 L1478.1,1418.1 L1482.0,1422.5 L1487.4,1420.9 L1492.1,1420.9 L1496.7,1422.8 L1504.5,1421.2 L1512.2,1420.1 L1520.0,1420.1 L1526.2,1420.9 L1530.8,1422.5 L1533.9,1421.7 L1536.7,1419.0 L1539.8,1421.7 L1543.2,1421.7 L1546.3,1419.0 L1549.4,1422.1 L1557.1,1421.7 L1563.3,1421.7 L1571.1,1420.9 L1577.3,1421.2 L1581.9,1422.8 L1589.7,1421.7 L1599.0,1421.7 L1603.6,1422.5 L1609.8,1421.7 L1617.6,1422.5 L1623.4,1419.0 L1626.9,1422.1 L1631.5,1422.1 L1637.7,1423.2 L1657.8,1423.5 L1657.8,1423.5 Z" fill="#000080" stroke="none"/>
<line x1="1329.4" y1="1423.5" x2="1657.8" y2="1423.5" stroke="#000080" stroke-width="4"/>
<path d="M1329.4,1423.2 L1335.6,1423.2 L1339.5,1420.9 L1342.6,1423.2 L1349.6,1423.2 L1353.4,1407.0 L1355.5,1404.6 L1357.6,1422.5 L1368.2,1423.2 L1375.9,1420.9 L1380.6,1421.7 L1386.0,1415.5 L1388.0,1414.7 L1391.4,1420.9 L1396.0,1423.2 L1403.8,1422.5 L1406.9,1417.5 L1409.2,1422.5 L1413.9,1420.9 L1417.7,1422.5 L1421.6,1411.6 L1423.9,1410.1 L1425.5,1423.2 L1427.3,1415.0 L1429.8,1422.5 L1432.4,1420.9 L1435.5,1423.2 L1439.4,1420.9 L1444.8,1416.3 L1448.7,1422.5 L1458.0,1421.7 L1461.9,1419.0 L1466.5,1421.7 L1470.4,1421.7 L1478.1,1418.1 L1482.0,1422.5 L1487.4,1420.9 L1492.1,1420.9 L1496.7,1422.8 L1504.5,1421.2 L1512.2,1420.1 L1520.0,1420.1 L1526.2,1420.9 L1530.8,1422.5 L1533.9,1421.7 L1536.7,1419.0 L1539.8,1421.7 L1543.2,1421.7 L1546.3,1419.0 L1549.4,1422.1 L1557.1,1421.7 L1563.3,1421.7 L1571.1,1420.9 L1577.3,1421.2 L1581.9,1422.8 L1589.7,1421.7 L1599.0,1421.7 L1603.6,1422.5 L1609.8,1421.7 L1617.6,1422.5 L1623.4,1419.0 L1626.9,1422.1 L1631.5,1422.1 L1637.7,1423.2 L1657.8,1423.7" fill="none" stroke="#000080" stroke-width="3.3"/>
<path d="M934.9,1416.9 L940.0,1419.0 L946.2,1423.7 L958.6,1423.7 L969.4,1417.5 L978.7,1420.1 L988.0,1423.2 L997.3,1423.2 L1007.4,1420.9 L1015.9,1423.2 L1023.6,1422.5 L1032.2,1419.4 L1039.1,1420.4 L1046.6,1416.6 L1053.1,1424.0 L1073.2,1423.2 L1080.2,1413.2 L1085.3,1398.4 L1090.3,1417.8 L1096.5,1413.5 L1102.7,1420.4 L1107.3,1420.1 L1112.4,1407.0 L1117.8,1417.5 L1122.5,1410.1 L1127.4,1420.1 L1132.1,1417.5 L1141.4,1416.6 L1145.2,1374.4 L1149.9,1383.7 L1154.5,1413.2 L1158.4,1417.8 L1163.1,1418.1 L1168.5,1423.7 L1173.6,1419.0 L1177.0,1423.2 L1180.1,1399.2 L1184.8,1396.1 L1190.9,1423.7 L1197.9,1409.8 L1204.1,1423.7 L1208.0,1413.2 L1213.4,1369.8 L1218.1,1368.2 L1223.5,1424.0 L1226.6,1411.9 L1231.2,1423.7 L1242.1,1400.0 L1248.3,1424.0 L1249.8,1402.3 L1253.7,1397.7 L1257.6,1420.9 L1262.2,1396.9 L1268.4,1420.9 L1272.3,1423.2 L1276.1,1410.1 L1280.0,1423.2 L1285.1,1411.9 L1288.5,1422.5 L1292.4,1410.8 L1296.3,1423.2 L1300.0,1421.7 L1300.0,1423.2 L1309.3,1422.5 L1314.7,1417.8 L1317.0,1407.0 L1320.1,1406.2 L1322.9,1422.5 L1324.8,1410.1 L1327.1,1409.8 L1329.4,1423.2" fill="none" stroke="#000080" stroke-width="4.6"/>
<path d="M382.9,1423.8 L520.9,975.1 L601.6,875.5 L658.9,933.8 L703.3,968.9 L739.6,975.7 L770.3,1144.7 L796.9,1184.1 L820.3,1082.7 L860.3,1409.0 L877.6,1423.3 L893.5,1332.1 L908.3,1332.1 L922.0,1396.6 L934.9,1416.9" fill="none" stroke="#000080" stroke-width="5.4"/>
<clipPath id="cj1"><path d="M0,0 H2390 V1637 H0 Z M382.9,1423.8 L520.9,975.1 L601.6,875.5 L658.9,933.8 L703.3,968.9 L739.6,975.7 L770.3,1144.7 L796.9,1184.1 L820.3,1082.7 L820.3,1426.0 L382.9,1426.0 Z" clip-rule="evenodd"/></clipPath>
<path d="M586.9,937.5 L667.6,779.7" fill="none" stroke="#FF8000" stroke-width="5.4" clip-path="url(#cj1)"/>
<clipPath id="cj2"><path d="M0,0 H2390 V1637 H0 Z M448.9,1339.6 L586.9,937.5 L667.6,779.7 L724.9,847.1 L769.3,931.7 L805.6,955.0 L836.3,1100.6 L862.9,1094.6 L886.3,1030.0 L886.3,1342.1 L448.9,1342.1 Z" clip-rule="evenodd"/></clipPath>
<path d="M652.9,865.0 L733.6,685.4" fill="none" stroke="#00FFFF" stroke-width="5.4" clip-path="url(#cj2)"/>
<clipPath id="cj3"><path d="M0,0 H2390 V1637 H0 Z M514.9,1255.8 L652.9,865.0 L733.6,685.4 L790.9,771.0 L835.3,901.6 L871.6,917.9 L902.3,1021.5 L928.9,998.4 L952.3,949.0 L952.3,1258.3 L514.9,1258.3 Z" clip-rule="evenodd"/></clipPath>
<path d="M718.9,777.6 L799.6,583.0" fill="none" stroke="#00FF00" stroke-width="5.4" clip-path="url(#cj3)"/>
<clipPath id="cj4"><path d="M0,0 H2390 V1637 H0 Z M580.9,1172.0 L718.9,777.6 L799.6,583.0 L856.9,669.2 L901.3,856.7 L937.6,879.2 L968.3,954.8 L994.9,922.4 L1018.3,896.5 L1018.3,1174.4 L580.9,1174.4 Z" clip-rule="evenodd"/></clipPath>
<path d="M784.9,715.3 L865.6,490.5" fill="none" stroke="#FF00FF" stroke-width="5.4" clip-path="url(#cj4)"/>
<clipPath id="cj5"><path d="M0,0 H2390 V1637 H0 Z M646.9,1087.8 L784.9,715.3 L865.6,490.5 L922.9,542.3 L967.3,835.0 L1003.6,841.2 L1034.3,880.9 L1060.9,852.9 L1084.3,852.9 L1084.3,1090.6 L646.9,1090.6 Z" clip-rule="evenodd"/></clipPath>
<path d="M850.9,633.4 L931.6,391.0" fill="none" stroke="#000000" stroke-width="5.4" clip-path="url(#cj5)"/>
<clipPath id="cj6"><path d="M0,0 H2390 V1637 H0 Z M712.9,1004.0 L850.9,633.4 L931.6,391.0 L988.9,499.8 L1033.3,779.7 L1069.6,779.0 L1100.3,806.3 L1126.9,775.6 L1150.3,782.5 L1150.3,1006.7 L712.9,1006.7 Z" clip-rule="evenodd"/></clipPath>
<path d="M916.9,516.5 L997.6,301.2" fill="none" stroke="#0000FF" stroke-width="5.4" clip-path="url(#cj6)"/>
<clipPath id="cj7"><path d="M0,0 H2390 V1637 H0 Z M778.9,920.8 L916.9,516.5 L997.6,301.2 L1054.9,379.3 L1099.3,694.4 L1135.6,709.0 L1166.3,721.0 L1192.9,693.4 L1216.3,709.6 L1216.3,922.9 L778.9,922.9 Z" clip-rule="evenodd"/></clipPath>
<path d="M982.9,424.8 L1063.6,210.7" fill="none" stroke="#FF0000" stroke-width="5.4" clip-path="url(#cj7)"/>
</g>
<g id="axes" stroke="#000" fill="none" shape-rendering="crispEdges">
<path d="M2208.0,797.6 L2208.0,50 L558.0,50" stroke-width="4" stroke-linejoin="miter" stroke-linecap="square"/>
<path d="M29.0,718.5 L29.0,1467 L1682.5,1467" stroke-width="4" stroke-linejoin="miter"/>
<line x1="558.5" y1="50" x2="29.0" y2="718.7" stroke-width="4.9" stroke-linecap="round"/>
<line x1="1682.5" y1="1467" x2="2208.0" y2="797.6" stroke-width="4.9" stroke-linecap="round"/>
<line x1="2190.0" y1="796.10" x2="2208.0" y2="796.10" stroke-width="4"/>
<line x1="2199.0" y1="746.38" x2="2208.0" y2="746.38" stroke-width="4"/>
<line x1="2199.0" y1="696.66" x2="2208.0" y2="696.66" stroke-width="4"/>
<line x1="2190.0" y1="646.94" x2="2208.0" y2="646.94" stroke-width="4"/>
<line x1="2199.0" y1="597.22" x2="2208.0" y2="597.22" stroke-width="4"/>
<line x1="2199.0" y1="547.50" x2="2208.0" y2="547.50" stroke-width="4"/>
<line x1="2190.0" y1="497.78" x2="2208.0" y2="497.78" stroke-width="4"/>
<line x1="2199.0" y1="448.06" x2="2208.0" y2="448.06" stroke-width="4"/>
<line x1="2199.0" y1="398.34" x2="2208.0" y2="398.34" stroke-width="4"/>
<line x1="2190.0" y1="348.62" x2="2208.0" y2="348.62" stroke-width="4"/>
<line x1="2199.0" y1="298.90" x2="2208.0" y2="298.90" stroke-width="4"/>
<line x1="2199.0" y1="249.18" x2="2208.0" y2="249.18" stroke-width="4"/>
<line x1="2190.0" y1="199.46" x2="2208.0" y2="199.46" stroke-width="4"/>
<line x1="2199.0" y1="149.74" x2="2208.0" y2="149.74" stroke-width="4"/>
<line x1="2199.0" y1="100.02" x2="2208.0" y2="100.02" stroke-width="4"/>
<line x1="167.49" y1="1458" x2="167.49" y2="1467" stroke-width="4"/>
<line x1="248.21" y1="1458" x2="248.21" y2="1467" stroke-width="4"/>
<line x1="305.48" y1="1458" x2="305.48" y2="1467" stroke-width="4"/>
<line x1="349.91" y1="1458" x2="349.91" y2="1467" stroke-width="4"/>
<line x1="386.20" y1="1458" x2="386.20" y2="1467" stroke-width="4"/>
<line x1="416.89" y1="1458" x2="416.89" y2="1467" stroke-width="4"/>
<line x1="443.48" y1="1458" x2="443.48" y2="1467" stroke-width="4"/>
<line x1="466.92" y1="1458" x2="466.92" y2="1467" stroke-width="4"/>
<line x1="487.90" y1="1449" x2="487.90" y2="1467" stroke-width="4"/>
<line x1="625.89" y1="1458" x2="625.89" y2="1467" stroke-width="4"/>
<line x1="706.61" y1="1458" x2="706.61" y2="1467" stroke-width="4"/>
<line x1="763.88" y1="1458" x2="763.88" y2="1467" stroke-width="4"/>
<line x1="808.31" y1="1458" x2="808.31" y2="1467" stroke-width="4"/>
<line x1="844.60" y1="1458" x2="844.60" y2="1467" stroke-width="4"/>
<line x1="875.29" y1="1458" x2="875.29" y2="1467" stroke-width="4"/>
<line x1="901.88" y1="1458" x2="901.88" y2="1467" stroke-width="4"/>
<line x1="925.32" y1="1458" x2="925.32" y2="1467" stroke-width="4"/>
<line x1="946.30" y1="1449" x2="946.30" y2="1467" stroke-width="4"/>
<line x1="1084.29" y1="1458" x2="1084.29" y2="1467" stroke-width="4"/>
<line x1="1165.01" y1="1458" x2="1165.01" y2="1467" stroke-width="4"/>
<line x1="1222.28" y1="1458" x2="1222.28" y2="1467" stroke-width="4"/>
<line x1="1266.71" y1="1458" x2="1266.71" y2="1467" stroke-width="4"/>
<line x1="1303.00" y1="1458" x2="1303.00" y2="1467" stroke-width="4"/>
<line x1="1333.69" y1="1458" x2="1333.69" y2="1467" stroke-width="4"/>
<line x1="1360.28" y1="1458" x2="1360.28" y2="1467" stroke-width="4"/>
<line x1="1383.72" y1="1458" x2="1383.72" y2="1467" stroke-width="4"/>
<line x1="1404.70" y1="1449" x2="1404.70" y2="1467" stroke-width="4"/>
<line x1="1542.69" y1="1458" x2="1542.69" y2="1467" stroke-width="4"/>
<line x1="1623.41" y1="1458" x2="1623.41" y2="1467" stroke-width="4"/>
<line x1="1680.68" y1="1458" x2="1680.68" y2="1467" stroke-width="4"/>
<line x1="1715.83" y1="1424.50" x2="1732.83" y2="1424.50" stroke-width="4"/>
<line x1="1781.61" y1="1340.64" x2="1798.61" y2="1340.64" stroke-width="4"/>
<line x1="1847.38" y1="1256.79" x2="1864.38" y2="1256.79" stroke-width="4"/>
<line x1="1913.15" y1="1172.93" x2="1930.15" y2="1172.93" stroke-width="4"/>
<line x1="1978.92" y1="1089.07" x2="1995.92" y2="1089.07" stroke-width="4"/>
<line x1="2044.69" y1="1005.22" x2="2061.69" y2="1005.22" stroke-width="4"/>
<line x1="2110.46" y1="921.36" x2="2127.46" y2="921.36" stroke-width="4"/>
<line x1="2176.23" y1="837.50" x2="2193.23" y2="837.50" stroke-width="4"/>
</g>
<g id="annot" shape-rendering="crispEdges">
<line x1="1018.0" y1="171.5" x2="512" y2="904.5" stroke="#0000FF" stroke-width="7.2" stroke-linecap="round"/>
<path d="M481.6,948.6 L505.6,884.4 L509.5,905.5 L533.4,903.6 Z" fill="#0000FF" stroke="#0000FF" stroke-width="7" stroke-linejoin="round"/>
<ellipse cx="1065.8" cy="215.4" rx="32" ry="44.5" pathLength="80" fill="none" stroke="#000" stroke-width="6.8" stroke-dasharray="3.0 7.0" stroke-dashoffset="2.8" stroke-linecap="round"/>
<ellipse cx="603.0" cy="883.6" rx="32" ry="44.5" pathLength="80" fill="none" stroke="#000" stroke-width="6.8" stroke-dasharray="3.0 7.0" stroke-dashoffset="2.8" stroke-linecap="round"/>
</g>
<g id="text" fill="#000">
<text transform="translate(1106.8,148.2) skewX(-8) scale(1.0,1)" font-family="'DejaVu Serif','Liberation Serif',serif" font-style="italic" font-size="66" stroke="#000" stroke-width="3" stroke-linejoin="round">f</text>
<text x="1136.3" y="167.3" font-family="'Liberation Serif','Times New Roman',serif" font-size="49">dominant</text>
<text x="1319.5" y="147" font-family="'Liberation Serif','Times New Roman',serif" font-weight="bold" font-size="72">=0.15 Hz</text>
<text x="1305.5" y="434" font-family="'Liberation Serif','Times New Roman',serif" font-weight="bold" font-size="80.6">Outlet straight tube</text>
<text x="219.5" y="529.5" font-family="'Liberation Serif','Times New Roman',serif" font-weight="bold" font-size="64.5">Axial measurement</text>
<text x="219.5" y="610.5" font-family="'Liberation Serif','Times New Roman',serif" font-weight="bold" font-size="64.5">points along flow</text>
<text x="219.5" y="691.5" font-family="'Liberation Serif','Times New Roman',serif" font-weight="bold" font-size="64.5">direction</text>
<text x="2223.6" y="811.4" font-family="'Liberation Sans',Arial,sans-serif" font-weight="bold" font-size="52.5">0.000</text>
<text x="2223.6" y="662.2" font-family="'Liberation Sans',Arial,sans-serif" font-weight="bold" font-size="52.5">0.006</text>
<text x="2223.6" y="513.1" font-family="'Liberation Sans',Arial,sans-serif" font-weight="bold" font-size="52.5">0.012</text>
<text x="2223.6" y="363.9" font-family="'Liberation Sans',Arial,sans-serif" font-weight="bold" font-size="52.5">0.018</text>
<text x="2223.6" y="214.8" font-family="'Liberation Sans',Arial,sans-serif" font-weight="bold" font-size="52.5">0.024</text>
<text x="2223.6" y="65.6" font-family="'Liberation Sans',Arial,sans-serif" font-weight="bold" font-size="52.5">0.030</text>
<text x="487.9" y="1527" text-anchor="middle" font-family="'Liberation Sans',Arial,sans-serif" font-weight="bold" font-size="52.5">0.1</text>
<text x="946.3" y="1527" text-anchor="middle" font-family="'Liberation Sans',Arial,sans-serif" font-weight="bold" font-size="52.5">1</text>
<text x="1404.7" y="1527" text-anchor="middle" font-family="'Liberation Sans',Arial,sans-serif" font-weight="bold" font-size="52.5">10</text>
<text transform="translate(1747.4,1451.8) skewX(-38.1) scale(1,0.81)" font-family="'Liberation Sans',Arial,sans-serif" font-weight="bold" font-size="52.5" stroke="#000" stroke-width="0.8">+130D</text>
<text transform="translate(1813.2,1367.9) skewX(-38.1) scale(1,0.81)" font-family="'Liberation Sans',Arial,sans-serif" font-weight="bold" font-size="52.5" stroke="#000" stroke-width="0.8">+80D</text>
<text transform="translate(1879.0,1284.1) skewX(-38.1) scale(1,0.81)" font-family="'Liberation Sans',Arial,sans-serif" font-weight="bold" font-size="52.5" stroke="#000" stroke-width="0.8">+60D</text>
<text transform="translate(1944.8,1200.2) skewX(-38.1) scale(1,0.81)" font-family="'Liberation Sans',Arial,sans-serif" font-weight="bold" font-size="52.5" stroke="#000" stroke-width="0.8">+45D</text>
<text transform="translate(2010.5,1116.4) skewX(-38.1) scale(1,0.81)" font-family="'Liberation Sans',Arial,sans-serif" font-weight="bold" font-size="52.5" stroke="#000" stroke-width="0.8">+30D</text>
<text transform="translate(2076.3,1032.5) skewX(-38.1) scale(1,0.81)" font-family="'Liberation Sans',Arial,sans-serif" font-weight="bold" font-size="52.5" stroke="#000" stroke-width="0.8">+20D</text>
<text transform="translate(2142.1,948.7) skewX(-38.1) scale(1,0.81)" font-family="'Liberation Sans',Arial,sans-serif" font-weight="bold" font-size="52.5" stroke="#000" stroke-width="0.8">+10D</text>
<text transform="translate(2207.8,864.8) skewX(-38.1) scale(1,0.81)" font-family="'Liberation Sans',Arial,sans-serif" font-weight="bold" font-size="52.5" stroke="#000" stroke-width="0.8">+5D</text>
<text transform="translate(774.4,1608.4) skewX(-8) scale(1.0,1)" font-family="'DejaVu Serif','Liberation Serif',serif" font-style="italic" font-size="66" stroke="#000" stroke-width="3" stroke-linejoin="round">f</text>
<text x="836" y="1607.3" font-family="'Liberation Serif','Times New Roman',serif" font-weight="bold" font-size="72">/ Hz</text>
<text transform="translate(2169.4,615.5) rotate(-90)" font-family="'Liberation Serif','Times New Roman',serif" font-weight="bold" font-size="58.5">PSD / kPa<tspan dy="-24.6" dx="-4">2</tspan><tspan dy="24.6" dx="-1">·Hz</tspan><tspan dy="-24.6" dx="-1">-1</tspan></text>
</g>
</svg>
</body></html>
